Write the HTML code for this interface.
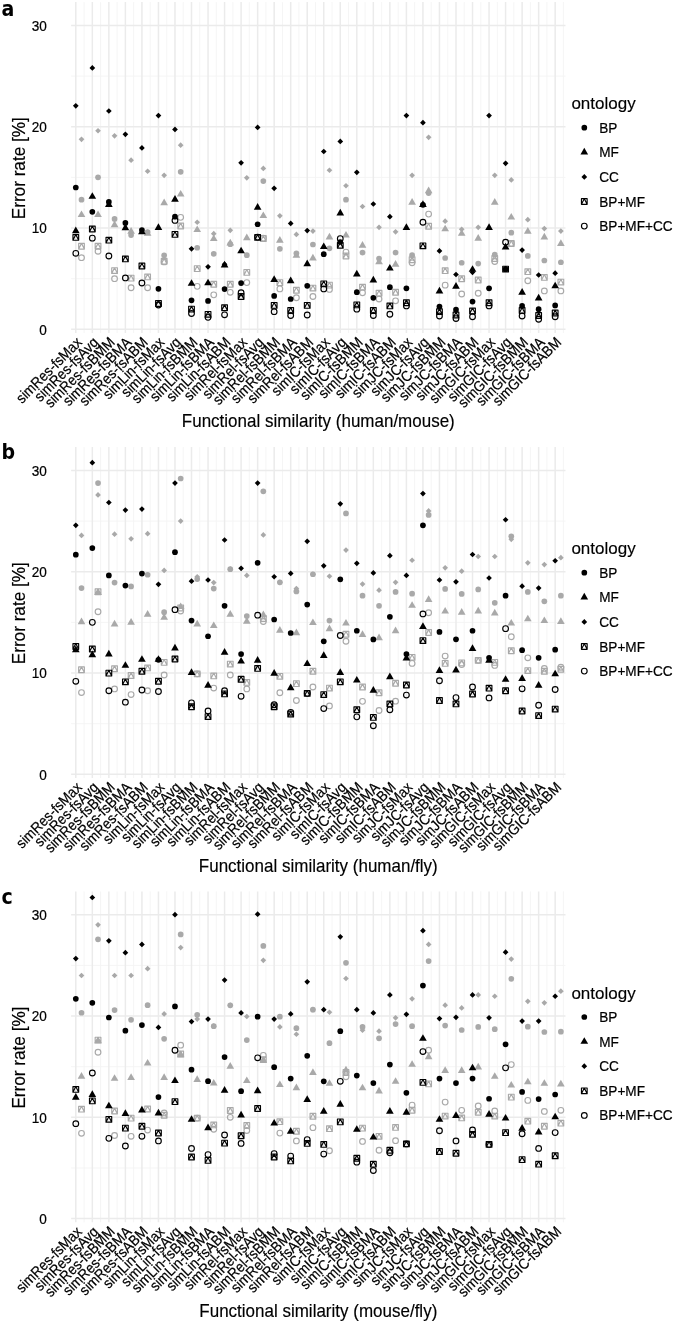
<!DOCTYPE html>
<html><head><meta charset="utf-8"><title>Error rate by functional similarity</title>
<style>
html,body{margin:0;padding:0;background:#fff;}
body{width:675px;height:1322px;overflow:hidden;}
svg{display:block;}
text{font-family:'Liberation Sans', sans-serif;fill:#000;}
.tk{font-size:13.6px;stroke:#000;stroke-width:0.2px;}
.tt{font-size:17px;stroke:#000;stroke-width:0.15px;}
.tag{font-family:'DejaVu Sans',sans-serif;font-size:20px;font-weight:bold;}
</style></head><body>
<svg width="675" height="1322" viewBox="0 0 675 1322">
<rect width="675" height="1322" fill="#fff"/>
<g>
<line x1="71.1" x2="565.5" y1="278.65" y2="278.65" stroke="#f4f4f4" stroke-width="0.9"/>
<line x1="71.1" x2="565.5" y1="177.35" y2="177.35" stroke="#f4f4f4" stroke-width="0.9"/>
<line x1="71.1" x2="565.5" y1="76.05" y2="76.05" stroke="#f4f4f4" stroke-width="0.9"/>
<line x1="84.06" x2="84.06" y1="2.1" y2="333" stroke="#f4f4f4" stroke-width="0.9"/>
<line x1="100.59" x2="100.59" y1="2.1" y2="333" stroke="#f4f4f4" stroke-width="0.9"/>
<line x1="117.12" x2="117.12" y1="2.1" y2="333" stroke="#f4f4f4" stroke-width="0.9"/>
<line x1="133.66" x2="133.66" y1="2.1" y2="333" stroke="#f4f4f4" stroke-width="0.9"/>
<line x1="150.19" x2="150.19" y1="2.1" y2="333" stroke="#f4f4f4" stroke-width="0.9"/>
<line x1="166.72" x2="166.72" y1="2.1" y2="333" stroke="#f4f4f4" stroke-width="0.9"/>
<line x1="183.25" x2="183.25" y1="2.1" y2="333" stroke="#f4f4f4" stroke-width="0.9"/>
<line x1="199.78" x2="199.78" y1="2.1" y2="333" stroke="#f4f4f4" stroke-width="0.9"/>
<line x1="216.31" x2="216.31" y1="2.1" y2="333" stroke="#f4f4f4" stroke-width="0.9"/>
<line x1="232.84" x2="232.84" y1="2.1" y2="333" stroke="#f4f4f4" stroke-width="0.9"/>
<line x1="249.37" x2="249.37" y1="2.1" y2="333" stroke="#f4f4f4" stroke-width="0.9"/>
<line x1="265.9" x2="265.9" y1="2.1" y2="333" stroke="#f4f4f4" stroke-width="0.9"/>
<line x1="282.43" x2="282.43" y1="2.1" y2="333" stroke="#f4f4f4" stroke-width="0.9"/>
<line x1="298.96" x2="298.96" y1="2.1" y2="333" stroke="#f4f4f4" stroke-width="0.9"/>
<line x1="315.49" x2="315.49" y1="2.1" y2="333" stroke="#f4f4f4" stroke-width="0.9"/>
<line x1="332.02" x2="332.02" y1="2.1" y2="333" stroke="#f4f4f4" stroke-width="0.9"/>
<line x1="348.55" x2="348.55" y1="2.1" y2="333" stroke="#f4f4f4" stroke-width="0.9"/>
<line x1="365.08" x2="365.08" y1="2.1" y2="333" stroke="#f4f4f4" stroke-width="0.9"/>
<line x1="381.61" x2="381.61" y1="2.1" y2="333" stroke="#f4f4f4" stroke-width="0.9"/>
<line x1="398.14" x2="398.14" y1="2.1" y2="333" stroke="#f4f4f4" stroke-width="0.9"/>
<line x1="414.67" x2="414.67" y1="2.1" y2="333" stroke="#f4f4f4" stroke-width="0.9"/>
<line x1="431.2" x2="431.2" y1="2.1" y2="333" stroke="#f4f4f4" stroke-width="0.9"/>
<line x1="447.73" x2="447.73" y1="2.1" y2="333" stroke="#f4f4f4" stroke-width="0.9"/>
<line x1="464.26" x2="464.26" y1="2.1" y2="333" stroke="#f4f4f4" stroke-width="0.9"/>
<line x1="480.79" x2="480.79" y1="2.1" y2="333" stroke="#f4f4f4" stroke-width="0.9"/>
<line x1="497.32" x2="497.32" y1="2.1" y2="333" stroke="#f4f4f4" stroke-width="0.9"/>
<line x1="513.85" x2="513.85" y1="2.1" y2="333" stroke="#f4f4f4" stroke-width="0.9"/>
<line x1="530.38" x2="530.38" y1="2.1" y2="333" stroke="#f4f4f4" stroke-width="0.9"/>
<line x1="546.9" x2="546.9" y1="2.1" y2="333" stroke="#f4f4f4" stroke-width="0.9"/>
<line x1="563.44" x2="563.44" y1="2.1" y2="333" stroke="#f4f4f4" stroke-width="0.9"/>
<line x1="71.1" x2="565.5" y1="329.3" y2="329.3" stroke="#ebebeb" stroke-width="1.5"/>
<line x1="71.1" x2="565.5" y1="228" y2="228" stroke="#ebebeb" stroke-width="1.5"/>
<line x1="71.1" x2="565.5" y1="126.7" y2="126.7" stroke="#ebebeb" stroke-width="1.5"/>
<line x1="71.1" x2="565.5" y1="25.4" y2="25.4" stroke="#ebebeb" stroke-width="1.5"/>
<line x1="75.8" x2="75.8" y1="2.1" y2="333" stroke="#ebebeb" stroke-width="1.5"/>
<line x1="92.33" x2="92.33" y1="2.1" y2="333" stroke="#ebebeb" stroke-width="1.5"/>
<line x1="108.86" x2="108.86" y1="2.1" y2="333" stroke="#ebebeb" stroke-width="1.5"/>
<line x1="125.39" x2="125.39" y1="2.1" y2="333" stroke="#ebebeb" stroke-width="1.5"/>
<line x1="141.92" x2="141.92" y1="2.1" y2="333" stroke="#ebebeb" stroke-width="1.5"/>
<line x1="158.45" x2="158.45" y1="2.1" y2="333" stroke="#ebebeb" stroke-width="1.5"/>
<line x1="174.98" x2="174.98" y1="2.1" y2="333" stroke="#ebebeb" stroke-width="1.5"/>
<line x1="191.51" x2="191.51" y1="2.1" y2="333" stroke="#ebebeb" stroke-width="1.5"/>
<line x1="208.04" x2="208.04" y1="2.1" y2="333" stroke="#ebebeb" stroke-width="1.5"/>
<line x1="224.57" x2="224.57" y1="2.1" y2="333" stroke="#ebebeb" stroke-width="1.5"/>
<line x1="241.1" x2="241.1" y1="2.1" y2="333" stroke="#ebebeb" stroke-width="1.5"/>
<line x1="257.63" x2="257.63" y1="2.1" y2="333" stroke="#ebebeb" stroke-width="1.5"/>
<line x1="274.16" x2="274.16" y1="2.1" y2="333" stroke="#ebebeb" stroke-width="1.5"/>
<line x1="290.69" x2="290.69" y1="2.1" y2="333" stroke="#ebebeb" stroke-width="1.5"/>
<line x1="307.22" x2="307.22" y1="2.1" y2="333" stroke="#ebebeb" stroke-width="1.5"/>
<line x1="323.75" x2="323.75" y1="2.1" y2="333" stroke="#ebebeb" stroke-width="1.5"/>
<line x1="340.28" x2="340.28" y1="2.1" y2="333" stroke="#ebebeb" stroke-width="1.5"/>
<line x1="356.81" x2="356.81" y1="2.1" y2="333" stroke="#ebebeb" stroke-width="1.5"/>
<line x1="373.34" x2="373.34" y1="2.1" y2="333" stroke="#ebebeb" stroke-width="1.5"/>
<line x1="389.87" x2="389.87" y1="2.1" y2="333" stroke="#ebebeb" stroke-width="1.5"/>
<line x1="406.4" x2="406.4" y1="2.1" y2="333" stroke="#ebebeb" stroke-width="1.5"/>
<line x1="422.93" x2="422.93" y1="2.1" y2="333" stroke="#ebebeb" stroke-width="1.5"/>
<line x1="439.46" x2="439.46" y1="2.1" y2="333" stroke="#ebebeb" stroke-width="1.5"/>
<line x1="455.99" x2="455.99" y1="2.1" y2="333" stroke="#ebebeb" stroke-width="1.5"/>
<line x1="472.52" x2="472.52" y1="2.1" y2="333" stroke="#ebebeb" stroke-width="1.5"/>
<line x1="489.05" x2="489.05" y1="2.1" y2="333" stroke="#ebebeb" stroke-width="1.5"/>
<line x1="505.58" x2="505.58" y1="2.1" y2="333" stroke="#ebebeb" stroke-width="1.5"/>
<line x1="522.11" x2="522.11" y1="2.1" y2="333" stroke="#ebebeb" stroke-width="1.5"/>
<line x1="538.64" x2="538.64" y1="2.1" y2="333" stroke="#ebebeb" stroke-width="1.5"/>
<line x1="555.17" x2="555.17" y1="2.1" y2="333" stroke="#ebebeb" stroke-width="1.5"/>
<circle cx="81.5" cy="199.64" r="2.85" fill="#a9a9a9"/>
<polygon points="81.5,210.39 85.34,217.03 77.66,217.03" fill="#a9a9a9"/>
<polygon points="78.65,139.36 81.5,136.51 84.35,139.36 81.5,142.21" fill="#a9a9a9"/>
<path d="M78.65,243.38h5.7v5.7h-5.7zM81.5,243.38L84.35,249.08M81.5,243.38L78.65,249.08" fill="none" stroke="#a9a9a9" stroke-width="1.15" stroke-linejoin="round"/>
<circle cx="81.5" cy="257.68" r="2.85" fill="none" stroke="#a9a9a9" stroke-width="1.15"/>
<circle cx="75.8" cy="187.48" r="2.85" fill="#000"/>
<polygon points="75.8,226.59 79.64,233.24 71.96,233.24" fill="#000"/>
<polygon points="72.95,105.83 75.8,102.98 78.65,105.83 75.8,108.68" fill="#000"/>
<path d="M72.95,234.57h5.7v5.7h-5.7zM75.8,234.57L78.65,240.27M75.8,234.57L72.95,240.27" fill="none" stroke="#000" stroke-width="1.15" stroke-linejoin="round"/>
<circle cx="75.8" cy="253.32" r="2.85" fill="none" stroke="#000" stroke-width="1.15"/>
<circle cx="98.03" cy="177.35" r="2.85" fill="#a9a9a9"/>
<polygon points="98.03,210.39 101.87,217.03 94.19,217.03" fill="#a9a9a9"/>
<polygon points="95.18,130.75 98.03,127.9 100.88,130.75 98.03,133.6" fill="#a9a9a9"/>
<path d="M95.18,243.38h5.7v5.7h-5.7zM98.03,243.38L100.88,249.08M98.03,243.38L95.18,249.08" fill="none" stroke="#a9a9a9" stroke-width="1.15" stroke-linejoin="round"/>
<circle cx="98.03" cy="251.3" r="2.85" fill="none" stroke="#a9a9a9" stroke-width="1.15"/>
<circle cx="92.33" cy="211.79" r="2.85" fill="#000"/>
<polygon points="92.33,192.15 96.17,198.8 88.49,198.8" fill="#000"/>
<polygon points="89.48,67.95 92.33,65.1 95.18,67.95 92.33,70.8" fill="#000"/>
<path d="M89.48,226.16h5.7v5.7h-5.7zM92.33,226.16L95.18,231.86M92.33,226.16L89.48,231.86" fill="none" stroke="#000" stroke-width="1.15" stroke-linejoin="round"/>
<circle cx="92.33" cy="238.13" r="2.85" fill="none" stroke="#000" stroke-width="1.15"/>
<circle cx="114.56" cy="218.88" r="2.85" fill="#a9a9a9"/>
<polygon points="114.56,220.52 118.4,227.16 110.72,227.16" fill="#a9a9a9"/>
<polygon points="111.71,135.82 114.56,132.97 117.41,135.82 114.56,138.67" fill="#a9a9a9"/>
<path d="M111.71,267.7h5.7v5.7h-5.7zM114.56,267.7L117.41,273.4M114.56,267.7L111.71,273.4" fill="none" stroke="#a9a9a9" stroke-width="1.15" stroke-linejoin="round"/>
<circle cx="114.56" cy="278.65" r="2.85" fill="none" stroke="#a9a9a9" stroke-width="1.15"/>
<circle cx="108.86" cy="201.97" r="2.85" fill="#000"/>
<polygon points="108.86,200.26 112.7,206.9 105.02,206.9" fill="#000"/>
<polygon points="106.01,111 108.86,108.15 111.71,111 108.86,113.85" fill="#000"/>
<path d="M106.01,237.31h5.7v5.7h-5.7zM108.86,237.31L111.71,243.01M108.86,237.31L106.01,243.01" fill="none" stroke="#000" stroke-width="1.15" stroke-linejoin="round"/>
<circle cx="108.86" cy="255.96" r="2.85" fill="none" stroke="#000" stroke-width="1.15"/>
<circle cx="131.09" cy="235.09" r="2.85" fill="#a9a9a9"/>
<polygon points="131.09,227.1 134.93,233.75 127.25,233.75" fill="#a9a9a9"/>
<polygon points="128.24,160.13 131.09,157.28 133.94,160.13 131.09,162.98" fill="#a9a9a9"/>
<path d="M128.24,275.29h5.7v5.7h-5.7zM131.09,275.29L133.94,280.99M131.09,275.29L128.24,280.99" fill="none" stroke="#a9a9a9" stroke-width="1.15" stroke-linejoin="round"/>
<circle cx="131.09" cy="287.77" r="2.85" fill="none" stroke="#a9a9a9" stroke-width="1.15"/>
<circle cx="125.39" cy="222.94" r="2.85" fill="#000"/>
<polygon points="125.39,223.55 129.23,230.2 121.55,230.2" fill="#000"/>
<polygon points="122.54,134.3 125.39,131.45 128.24,134.3 125.39,137.15" fill="#000"/>
<path d="M122.54,256.05h5.7v5.7h-5.7zM125.39,256.05L128.24,261.75M125.39,256.05L122.54,261.75" fill="none" stroke="#000" stroke-width="1.15" stroke-linejoin="round"/>
<circle cx="125.39" cy="277.94" r="2.85" fill="none" stroke="#000" stroke-width="1.15"/>
<circle cx="147.62" cy="232.05" r="2.85" fill="#a9a9a9"/>
<polygon points="147.62,229.13 151.46,235.77 143.78,235.77" fill="#a9a9a9"/>
<polygon points="144.77,171.27 147.62,168.42 150.47,171.27 147.62,174.12" fill="#a9a9a9"/>
<path d="M144.77,274.08h5.7v5.7h-5.7zM147.62,274.08L150.47,279.78M147.62,274.08L144.77,279.78" fill="none" stroke="#a9a9a9" stroke-width="1.15" stroke-linejoin="round"/>
<circle cx="147.62" cy="287.77" r="2.85" fill="none" stroke="#a9a9a9" stroke-width="1.15"/>
<circle cx="141.92" cy="230.03" r="2.85" fill="#000"/>
<polygon points="141.92,227.61 145.76,234.26 138.08,234.26" fill="#000"/>
<polygon points="139.07,147.97 141.92,145.12 144.77,147.97 141.92,150.82" fill="#000"/>
<path d="M139.07,263.14h5.7v5.7h-5.7zM141.92,263.14L144.77,268.84M141.92,263.14L139.07,268.84" fill="none" stroke="#000" stroke-width="1.15" stroke-linejoin="round"/>
<circle cx="141.92" cy="283.01" r="2.85" fill="none" stroke="#000" stroke-width="1.15"/>
<circle cx="164.15" cy="255.35" r="2.85" fill="#a9a9a9"/>
<polygon points="164.15,198.53 167.99,205.18 160.31,205.18" fill="#a9a9a9"/>
<polygon points="161.3,175.32 164.15,172.47 167,175.32 164.15,178.17" fill="#a9a9a9"/>
<path d="M161.3,258.38h5.7v5.7h-5.7zM164.15,258.38L167,264.08M164.15,258.38L161.3,264.08" fill="none" stroke="#a9a9a9" stroke-width="1.15" stroke-linejoin="round"/>
<circle cx="164.15" cy="261.94" r="2.85" fill="none" stroke="#a9a9a9" stroke-width="1.15"/>
<circle cx="158.45" cy="288.78" r="2.85" fill="#000"/>
<polygon points="158.45,223.35 162.29,230 154.61,230" fill="#000"/>
<polygon points="155.6,115.56 158.45,112.71 161.3,115.56 158.45,118.41" fill="#000"/>
<path d="M155.6,300.62h5.7v5.7h-5.7zM158.45,300.62L161.3,306.32M158.45,300.62L155.6,306.32" fill="none" stroke="#000" stroke-width="1.15" stroke-linejoin="round"/>
<circle cx="158.45" cy="304.99" r="2.85" fill="none" stroke="#000" stroke-width="1.15"/>
<circle cx="180.68" cy="171.78" r="2.85" fill="#a9a9a9"/>
<polygon points="180.68,189.92 184.52,196.57 176.84,196.57" fill="#a9a9a9"/>
<polygon points="177.83,145.14 180.68,142.29 183.53,145.14 180.68,147.99" fill="#a9a9a9"/>
<path d="M177.83,223.12h5.7v5.7h-5.7zM180.68,223.12L183.53,228.82M180.68,223.12L177.83,228.82" fill="none" stroke="#a9a9a9" stroke-width="1.15" stroke-linejoin="round"/>
<circle cx="180.68" cy="217.36" r="2.85" fill="none" stroke="#a9a9a9" stroke-width="1.15"/>
<circle cx="174.98" cy="216.65" r="2.85" fill="#000"/>
<polygon points="174.98,194.99 178.82,201.64 171.14,201.64" fill="#000"/>
<polygon points="172.13,129.44 174.98,126.59 177.83,129.44 174.98,132.29" fill="#000"/>
<path d="M172.13,231.53h5.7v5.7h-5.7zM174.98,231.53L177.83,237.23M174.98,231.53L172.13,237.23" fill="none" stroke="#000" stroke-width="1.15" stroke-linejoin="round"/>
<circle cx="174.98" cy="220.4" r="2.85" fill="none" stroke="#000" stroke-width="1.15"/>
<circle cx="197.21" cy="247.75" r="2.85" fill="#a9a9a9"/>
<polygon points="197.21,225.38 201.05,232.03 193.37,232.03" fill="#a9a9a9"/>
<polygon points="194.36,222.23 197.21,219.38 200.06,222.23 197.21,225.08" fill="#a9a9a9"/>
<path d="M194.36,265.77h5.7v5.7h-5.7zM197.21,265.77L200.06,271.47M197.21,265.77L194.36,271.47" fill="none" stroke="#a9a9a9" stroke-width="1.15" stroke-linejoin="round"/>
<circle cx="197.21" cy="286.35" r="2.85" fill="none" stroke="#a9a9a9" stroke-width="1.15"/>
<circle cx="191.51" cy="300.33" r="2.85" fill="#000"/>
<polygon points="191.51,279.17 195.35,285.82 187.67,285.82" fill="#000"/>
<polygon points="188.66,248.87 191.51,246.02 194.36,248.87 191.51,251.72" fill="#000"/>
<path d="M188.66,306.29h5.7v5.7h-5.7zM191.51,306.29L194.36,311.99M191.51,306.29L188.66,311.99" fill="none" stroke="#000" stroke-width="1.15" stroke-linejoin="round"/>
<circle cx="191.51" cy="313.5" r="2.85" fill="none" stroke="#000" stroke-width="1.15"/>
<circle cx="213.74" cy="253.83" r="2.85" fill="#a9a9a9"/>
<polygon points="213.74,234.39 217.58,241.04 209.9,241.04" fill="#a9a9a9"/>
<polygon points="210.89,233.67 213.74,230.82 216.59,233.67 213.74,236.52" fill="#a9a9a9"/>
<path d="M210.89,281.37h5.7v5.7h-5.7zM213.74,281.37L216.59,287.07M213.74,281.37L210.89,287.07" fill="none" stroke="#a9a9a9" stroke-width="1.15" stroke-linejoin="round"/>
<circle cx="213.74" cy="294.86" r="2.85" fill="none" stroke="#a9a9a9" stroke-width="1.15"/>
<circle cx="208.04" cy="300.94" r="2.85" fill="#000"/>
<polygon points="208.04,278.66 211.88,285.31 204.2,285.31" fill="#000"/>
<polygon points="205.19,266.8 208.04,263.95 210.89,266.8 208.04,269.65" fill="#000"/>
<path d="M205.19,311.46h5.7v5.7h-5.7zM208.04,311.46L210.89,317.16M208.04,311.46L205.19,317.16" fill="none" stroke="#000" stroke-width="1.15" stroke-linejoin="round"/>
<circle cx="208.04" cy="317.35" r="2.85" fill="none" stroke="#000" stroke-width="1.15"/>
<circle cx="230.27" cy="244.21" r="2.85" fill="#a9a9a9"/>
<polygon points="230.27,238.75 234.11,245.4 226.43,245.4" fill="#a9a9a9"/>
<polygon points="227.42,230.33 230.27,227.48 233.12,230.33 230.27,233.18" fill="#a9a9a9"/>
<path d="M227.42,281.37h5.7v5.7h-5.7zM230.27,281.37L233.12,287.07M230.27,281.37L227.42,287.07" fill="none" stroke="#a9a9a9" stroke-width="1.15" stroke-linejoin="round"/>
<circle cx="230.27" cy="292.33" r="2.85" fill="none" stroke="#a9a9a9" stroke-width="1.15"/>
<circle cx="224.57" cy="289.08" r="2.85" fill="#000"/>
<polygon points="224.57,260.83 228.41,267.48 220.73,267.48" fill="#000"/>
<polygon points="221.72,264.27 224.57,261.42 227.42,264.27 224.57,267.12" fill="#000"/>
<path d="M221.72,304.87h5.7v5.7h-5.7zM224.57,304.87L227.42,310.57M224.57,304.87L221.72,310.57" fill="none" stroke="#000" stroke-width="1.15" stroke-linejoin="round"/>
<circle cx="224.57" cy="314.81" r="2.85" fill="none" stroke="#000" stroke-width="1.15"/>
<circle cx="246.8" cy="255.15" r="2.85" fill="#a9a9a9"/>
<polygon points="246.8,233.48 250.64,240.13 242.96,240.13" fill="#a9a9a9"/>
<polygon points="243.95,177.86 246.8,175.01 249.65,177.86 246.8,180.71" fill="#a9a9a9"/>
<path d="M243.95,269.52h5.7v5.7h-5.7zM246.8,269.52L249.65,275.22M246.8,269.52L243.95,275.22" fill="none" stroke="#a9a9a9" stroke-width="1.15" stroke-linejoin="round"/>
<circle cx="246.8" cy="282.6" r="2.85" fill="none" stroke="#a9a9a9" stroke-width="1.15"/>
<circle cx="241.1" cy="283.11" r="2.85" fill="#000"/>
<polygon points="241.1,246.65 244.94,253.3 237.26,253.3" fill="#000"/>
<polygon points="238.25,162.86 241.1,160.01 243.95,162.86 241.1,165.71" fill="#000"/>
<path d="M238.25,293.63h5.7v5.7h-5.7zM241.1,293.63L243.95,299.33M241.1,293.63L238.25,299.33" fill="none" stroke="#000" stroke-width="1.15" stroke-linejoin="round"/>
<circle cx="241.1" cy="292.73" r="2.85" fill="none" stroke="#000" stroke-width="1.15"/>
<circle cx="263.33" cy="181.1" r="2.85" fill="#a9a9a9"/>
<polygon points="263.33,211.4 267.17,218.05 259.49,218.05" fill="#a9a9a9"/>
<polygon points="260.48,168.44 263.33,165.59 266.18,168.44 263.33,171.29" fill="#a9a9a9"/>
<path d="M260.48,235.69h5.7v5.7h-5.7zM263.33,235.69L266.18,241.39M263.33,235.69L260.48,241.39" fill="none" stroke="#a9a9a9" stroke-width="1.15" stroke-linejoin="round"/>
<circle cx="263.33" cy="238.13" r="2.85" fill="none" stroke="#a9a9a9" stroke-width="1.15"/>
<circle cx="257.63" cy="224.25" r="2.85" fill="#000"/>
<polygon points="257.63,203.09 261.47,209.74 253.79,209.74" fill="#000"/>
<polygon points="254.78,127.41 257.63,124.56 260.48,127.41 257.63,130.26" fill="#000"/>
<path d="M254.78,234.57h5.7v5.7h-5.7zM257.63,234.57L260.48,240.27M257.63,234.57L254.78,240.27" fill="none" stroke="#000" stroke-width="1.15" stroke-linejoin="round"/>
<circle cx="257.63" cy="237.12" r="2.85" fill="none" stroke="#000" stroke-width="1.15"/>
<circle cx="279.86" cy="248.87" r="2.85" fill="#a9a9a9"/>
<polygon points="279.86,236.01 283.7,242.66 276.02,242.66" fill="#a9a9a9"/>
<polygon points="277.01,215.84 279.86,212.99 282.71,215.84 279.86,218.69" fill="#a9a9a9"/>
<path d="M277.01,279.75h5.7v5.7h-5.7zM279.86,279.75L282.71,285.45M279.86,279.75L277.01,285.45" fill="none" stroke="#a9a9a9" stroke-width="1.15" stroke-linejoin="round"/>
<circle cx="279.86" cy="288.88" r="2.85" fill="none" stroke="#a9a9a9" stroke-width="1.15"/>
<circle cx="274.16" cy="295.97" r="2.85" fill="#000"/>
<polygon points="274.16,275.32 278,281.97 270.32,281.97" fill="#000"/>
<polygon points="271.31,188.29 274.16,185.44 277.01,188.29 274.16,191.14" fill="#000"/>
<path d="M271.31,302.54h5.7v5.7h-5.7zM274.16,302.54L277.01,308.24M274.16,302.54L271.31,308.24" fill="none" stroke="#000" stroke-width="1.15" stroke-linejoin="round"/>
<circle cx="274.16" cy="311.67" r="2.85" fill="none" stroke="#000" stroke-width="1.15"/>
<circle cx="296.39" cy="253.43" r="2.85" fill="#a9a9a9"/>
<polygon points="296.39,251.21 300.23,257.86 292.55,257.86" fill="#a9a9a9"/>
<polygon points="293.54,234.38 296.39,231.53 299.24,234.38 296.39,237.23" fill="#a9a9a9"/>
<path d="M293.54,287.35h5.7v5.7h-5.7zM296.39,287.35L299.24,293.05M296.39,287.35L293.54,293.05" fill="none" stroke="#a9a9a9" stroke-width="1.15" stroke-linejoin="round"/>
<circle cx="296.39" cy="297.8" r="2.85" fill="none" stroke="#a9a9a9" stroke-width="1.15"/>
<circle cx="290.69" cy="299.01" r="2.85" fill="#000"/>
<polygon points="290.69,276.53 294.53,283.18 286.85,283.18" fill="#000"/>
<polygon points="287.84,223.44 290.69,220.59 293.54,223.44 290.69,226.29" fill="#000"/>
<path d="M287.84,307.61h5.7v5.7h-5.7zM290.69,307.61L293.54,313.31M290.69,307.61L287.84,313.31" fill="none" stroke="#000" stroke-width="1.15" stroke-linejoin="round"/>
<circle cx="290.69" cy="315.52" r="2.85" fill="none" stroke="#000" stroke-width="1.15"/>
<circle cx="312.92" cy="244.51" r="2.85" fill="#a9a9a9"/>
<polygon points="312.92,253.74 316.76,260.39 309.08,260.39" fill="#a9a9a9"/>
<polygon points="310.07,231.04 312.92,228.19 315.77,231.04 312.92,233.89" fill="#a9a9a9"/>
<path d="M310.07,285.22h5.7v5.7h-5.7zM312.92,285.22L315.77,290.92M312.92,285.22L310.07,290.92" fill="none" stroke="#a9a9a9" stroke-width="1.15" stroke-linejoin="round"/>
<circle cx="312.92" cy="296.48" r="2.85" fill="none" stroke="#a9a9a9" stroke-width="1.15"/>
<circle cx="307.22" cy="285.84" r="2.85" fill="#000"/>
<polygon points="307.22,259.62 311.06,266.27 303.38,266.27" fill="#000"/>
<polygon points="304.37,230.53 307.22,227.68 310.07,230.53 307.22,233.38" fill="#000"/>
<path d="M304.37,302.54h5.7v5.7h-5.7zM307.22,302.54L310.07,308.24M307.22,302.54L304.37,308.24" fill="none" stroke="#000" stroke-width="1.15" stroke-linejoin="round"/>
<circle cx="307.22" cy="315.02" r="2.85" fill="none" stroke="#000" stroke-width="1.15"/>
<circle cx="329.45" cy="248.36" r="2.85" fill="#a9a9a9"/>
<polygon points="329.45,232.77 333.29,239.42 325.61,239.42" fill="#a9a9a9"/>
<polygon points="326.6,170.26 329.45,167.41 332.3,170.26 329.45,173.11" fill="#a9a9a9"/>
<path d="M326.6,282.28h5.7v5.7h-5.7zM329.45,282.28L332.3,287.98M329.45,282.28L326.6,287.98" fill="none" stroke="#a9a9a9" stroke-width="1.15" stroke-linejoin="round"/>
<circle cx="329.45" cy="289.39" r="2.85" fill="none" stroke="#a9a9a9" stroke-width="1.15"/>
<circle cx="323.75" cy="254.14" r="2.85" fill="#000"/>
<polygon points="323.75,242.4 327.59,249.04 319.91,249.04" fill="#000"/>
<polygon points="320.9,151.52 323.75,148.67 326.6,151.52 323.75,154.37" fill="#000"/>
<path d="M320.9,280.97h5.7v5.7h-5.7zM323.75,280.97L326.6,286.67M323.75,280.97L320.9,286.67" fill="none" stroke="#000" stroke-width="1.15" stroke-linejoin="round"/>
<circle cx="323.75" cy="288.88" r="2.85" fill="none" stroke="#000" stroke-width="1.15"/>
<circle cx="345.98" cy="199.64" r="2.85" fill="#a9a9a9"/>
<polygon points="345.98,230.95 349.82,237.6 342.14,237.6" fill="#a9a9a9"/>
<polygon points="343.13,185.76 345.98,182.91 348.83,185.76 345.98,188.61" fill="#a9a9a9"/>
<path d="M343.13,253.11h5.7v5.7h-5.7zM345.98,253.11L348.83,258.81M345.98,253.11L343.13,258.81" fill="none" stroke="#a9a9a9" stroke-width="1.15" stroke-linejoin="round"/>
<circle cx="345.98" cy="252.11" r="2.85" fill="none" stroke="#a9a9a9" stroke-width="1.15"/>
<circle cx="340.28" cy="241.98" r="2.85" fill="#000"/>
<polygon points="340.28,208.87 344.12,215.51 336.44,215.51" fill="#000"/>
<polygon points="337.43,141.39 340.28,138.54 343.13,141.39 340.28,144.24" fill="#000"/>
<path d="M337.43,242.47h5.7v5.7h-5.7zM340.28,242.47L343.13,248.17M340.28,242.47L337.43,248.17" fill="none" stroke="#000" stroke-width="1.15" stroke-linejoin="round"/>
<circle cx="340.28" cy="238.64" r="2.85" fill="none" stroke="#000" stroke-width="1.15"/>
<circle cx="362.51" cy="252.62" r="2.85" fill="#a9a9a9"/>
<polygon points="362.51,241.08 366.35,247.73 358.67,247.73" fill="#a9a9a9"/>
<polygon points="359.66,206.52 362.51,203.67 365.36,206.52 362.51,209.37" fill="#a9a9a9"/>
<path d="M359.66,284.31h5.7v5.7h-5.7zM362.51,284.31L365.36,290.01M362.51,284.31L359.66,290.01" fill="none" stroke="#a9a9a9" stroke-width="1.15" stroke-linejoin="round"/>
<circle cx="362.51" cy="292.73" r="2.85" fill="none" stroke="#a9a9a9" stroke-width="1.15"/>
<circle cx="356.81" cy="292.22" r="2.85" fill="#000"/>
<polygon points="356.81,269.75 360.65,276.4 352.97,276.4" fill="#000"/>
<polygon points="353.96,172.28 356.81,169.44 359.66,172.28 356.81,175.13" fill="#000"/>
<path d="M353.96,302.04h5.7v5.7h-5.7zM356.81,302.04L359.66,307.74M356.81,302.04L353.96,307.74" fill="none" stroke="#000" stroke-width="1.15" stroke-linejoin="round"/>
<circle cx="356.81" cy="309.14" r="2.85" fill="none" stroke="#000" stroke-width="1.15"/>
<circle cx="379.04" cy="258.49" r="2.85" fill="#a9a9a9"/>
<polygon points="379.04,257.59 382.88,264.24 375.2,264.24" fill="#a9a9a9"/>
<polygon points="376.19,227.29 379.04,224.44 381.89,227.29 379.04,230.14" fill="#a9a9a9"/>
<path d="M376.19,290.39h5.7v5.7h-5.7zM379.04,290.39L381.89,296.09M379.04,290.39L376.19,296.09" fill="none" stroke="#a9a9a9" stroke-width="1.15" stroke-linejoin="round"/>
<circle cx="379.04" cy="299.01" r="2.85" fill="none" stroke="#a9a9a9" stroke-width="1.15"/>
<circle cx="373.34" cy="297.8" r="2.85" fill="#000"/>
<polygon points="373.34,275.83 377.18,282.47 369.5,282.47" fill="#000"/>
<polygon points="370.49,203.99 373.34,201.14 376.19,203.99 373.34,206.84" fill="#000"/>
<path d="M370.49,307.61h5.7v5.7h-5.7zM373.34,307.61L376.19,313.31M373.34,307.61L370.49,313.31" fill="none" stroke="#000" stroke-width="1.15" stroke-linejoin="round"/>
<circle cx="373.34" cy="315.52" r="2.85" fill="none" stroke="#000" stroke-width="1.15"/>
<circle cx="395.57" cy="252.62" r="2.85" fill="#a9a9a9"/>
<polygon points="395.57,260.12 399.41,266.77 391.73,266.77" fill="#a9a9a9"/>
<polygon points="392.72,231.85 395.57,229 398.42,231.85 395.57,234.7" fill="#a9a9a9"/>
<path d="M392.72,289.37h5.7v5.7h-5.7zM395.57,289.37L398.42,295.07M395.57,289.37L392.72,295.07" fill="none" stroke="#a9a9a9" stroke-width="1.15" stroke-linejoin="round"/>
<circle cx="395.57" cy="300.83" r="2.85" fill="none" stroke="#a9a9a9" stroke-width="1.15"/>
<circle cx="389.87" cy="287.16" r="2.85" fill="#000"/>
<polygon points="389.87,263.97 393.71,270.62 386.03,270.62" fill="#000"/>
<polygon points="387.02,216.65 389.87,213.8 392.72,216.65 389.87,219.5" fill="#000"/>
<path d="M387.02,303.05h5.7v5.7h-5.7zM389.87,303.05L392.72,308.75M389.87,303.05L387.02,308.75" fill="none" stroke="#000" stroke-width="1.15" stroke-linejoin="round"/>
<circle cx="389.87" cy="314.21" r="2.85" fill="none" stroke="#000" stroke-width="1.15"/>
<circle cx="412.1" cy="255.15" r="2.85" fill="#a9a9a9"/>
<polygon points="412.1,198.03 415.94,204.68 408.26,204.68" fill="#a9a9a9"/>
<polygon points="409.25,175.32 412.1,172.47 414.95,175.32 412.1,178.17" fill="#a9a9a9"/>
<path d="M409.25,256.86h5.7v5.7h-5.7zM412.1,256.86L414.95,262.56M412.1,256.86L409.25,262.56" fill="none" stroke="#a9a9a9" stroke-width="1.15" stroke-linejoin="round"/>
<circle cx="412.1" cy="262.75" r="2.85" fill="none" stroke="#a9a9a9" stroke-width="1.15"/>
<circle cx="406.4" cy="288.37" r="2.85" fill="#000"/>
<polygon points="406.4,223.35 410.24,230 402.56,230" fill="#000"/>
<polygon points="403.55,115.56 406.4,112.71 409.25,115.56 406.4,118.41" fill="#000"/>
<path d="M403.55,299.91h5.7v5.7h-5.7zM406.4,299.91L409.25,305.61M406.4,299.91L403.55,305.61" fill="none" stroke="#000" stroke-width="1.15" stroke-linejoin="round"/>
<circle cx="406.4" cy="305.9" r="2.85" fill="none" stroke="#000" stroke-width="1.15"/>
<circle cx="428.63" cy="193.05" r="2.85" fill="#a9a9a9"/>
<polygon points="428.63,186.58 432.47,193.23 424.79,193.23" fill="#a9a9a9"/>
<polygon points="425.78,137.34 428.63,134.49 431.48,137.34 428.63,140.19" fill="#a9a9a9"/>
<path d="M425.78,223.43h5.7v5.7h-5.7zM428.63,223.43L431.48,229.13M428.63,223.43L425.78,229.13" fill="none" stroke="#a9a9a9" stroke-width="1.15" stroke-linejoin="round"/>
<circle cx="428.63" cy="214.12" r="2.85" fill="none" stroke="#a9a9a9" stroke-width="1.15"/>
<circle cx="422.93" cy="204.8" r="2.85" fill="#000"/>
<polygon points="422.93,200.26 426.77,206.9 419.09,206.9" fill="#000"/>
<polygon points="420.08,122.65 422.93,119.8 425.78,122.65 422.93,125.5" fill="#000"/>
<path d="M420.08,242.98h5.7v5.7h-5.7zM422.93,242.98L425.78,248.68M422.93,242.98L420.08,248.68" fill="none" stroke="#000" stroke-width="1.15" stroke-linejoin="round"/>
<circle cx="422.93" cy="222.23" r="2.85" fill="none" stroke="#000" stroke-width="1.15"/>
<circle cx="445.16" cy="257.98" r="2.85" fill="#a9a9a9"/>
<polygon points="445.16,224.67 449,231.32 441.32,231.32" fill="#a9a9a9"/>
<polygon points="442.31,221.21 445.16,218.36 448.01,221.21 445.16,224.06" fill="#a9a9a9"/>
<path d="M442.31,267.8h5.7v5.7h-5.7zM445.16,267.8L448.01,273.5M445.16,267.8L442.31,273.5" fill="none" stroke="#a9a9a9" stroke-width="1.15" stroke-linejoin="round"/>
<circle cx="445.16" cy="285.13" r="2.85" fill="none" stroke="#a9a9a9" stroke-width="1.15"/>
<circle cx="439.46" cy="306.61" r="2.85" fill="#000"/>
<polygon points="439.46,286.77 443.3,293.41 435.62,293.41" fill="#000"/>
<polygon points="436.61,250.89 439.46,248.04 442.31,250.89 439.46,253.74" fill="#000"/>
<path d="M436.61,308.82h5.7v5.7h-5.7zM439.46,308.82L442.31,314.52M439.46,308.82L436.61,314.52" fill="none" stroke="#000" stroke-width="1.15" stroke-linejoin="round"/>
<circle cx="439.46" cy="316.03" r="2.85" fill="none" stroke="#000" stroke-width="1.15"/>
<circle cx="461.69" cy="262.75" r="2.85" fill="#a9a9a9"/>
<polygon points="461.69,229.13 465.53,235.77 457.85,235.77" fill="#a9a9a9"/>
<polygon points="458.84,229.32 461.69,226.47 464.54,229.32 461.69,232.17" fill="#a9a9a9"/>
<path d="M458.84,275.9h5.7v5.7h-5.7zM461.69,275.9L464.54,281.6M461.69,275.9L458.84,281.6" fill="none" stroke="#a9a9a9" stroke-width="1.15" stroke-linejoin="round"/>
<circle cx="461.69" cy="293.95" r="2.85" fill="none" stroke="#a9a9a9" stroke-width="1.15"/>
<circle cx="455.99" cy="309.65" r="2.85" fill="#000"/>
<polygon points="455.99,282.11 459.83,288.75 452.15,288.75" fill="#000"/>
<polygon points="453.14,274.5 455.99,271.65 458.84,274.5 455.99,277.35" fill="#000"/>
<path d="M453.14,312.17h5.7v5.7h-5.7zM455.99,312.17L458.84,317.87M455.99,312.17L453.14,317.87" fill="none" stroke="#000" stroke-width="1.15" stroke-linejoin="round"/>
<circle cx="455.99" cy="318.56" r="2.85" fill="none" stroke="#000" stroke-width="1.15"/>
<circle cx="478.22" cy="263.56" r="2.85" fill="#a9a9a9"/>
<polygon points="478.22,233.99 482.06,240.64 474.38,240.64" fill="#a9a9a9"/>
<polygon points="475.37,227.29 478.22,224.44 481.07,227.29 478.22,230.14" fill="#a9a9a9"/>
<path d="M475.37,277.12h5.7v5.7h-5.7zM478.22,277.12L481.07,282.82M478.22,277.12L475.37,282.82" fill="none" stroke="#a9a9a9" stroke-width="1.15" stroke-linejoin="round"/>
<circle cx="478.22" cy="293.24" r="2.85" fill="none" stroke="#a9a9a9" stroke-width="1.15"/>
<circle cx="472.52" cy="301.54" r="2.85" fill="#000"/>
<polygon points="472.52,265.19 476.36,271.84 468.68,271.84" fill="#000"/>
<polygon points="469.67,272.37 472.52,269.52 475.37,272.37 472.52,275.22" fill="#000"/>
<path d="M469.67,308.11h5.7v5.7h-5.7zM472.52,308.11L475.37,313.81M472.52,308.11L469.67,313.81" fill="none" stroke="#000" stroke-width="1.15" stroke-linejoin="round"/>
<circle cx="472.52" cy="316.74" r="2.85" fill="none" stroke="#000" stroke-width="1.15"/>
<circle cx="494.75" cy="254.64" r="2.85" fill="#a9a9a9"/>
<polygon points="494.75,198.03 498.59,204.68 490.91,204.68" fill="#a9a9a9"/>
<polygon points="491.9,175.32 494.75,172.47 497.6,175.32 494.75,178.17" fill="#a9a9a9"/>
<path d="M491.9,255.64h5.7v5.7h-5.7zM494.75,255.64L497.6,261.34M494.75,255.64L491.9,261.34" fill="none" stroke="#a9a9a9" stroke-width="1.15" stroke-linejoin="round"/>
<circle cx="494.75" cy="261.53" r="2.85" fill="none" stroke="#a9a9a9" stroke-width="1.15"/>
<circle cx="489.05" cy="288.37" r="2.85" fill="#000"/>
<polygon points="489.05,223.35 492.89,230 485.21,230" fill="#000"/>
<polygon points="486.2,115.56 489.05,112.71 491.9,115.56 489.05,118.41" fill="#000"/>
<path d="M486.2,299.91h5.7v5.7h-5.7zM489.05,299.91L491.9,305.61M489.05,299.91L486.2,305.61" fill="none" stroke="#000" stroke-width="1.15" stroke-linejoin="round"/>
<circle cx="489.05" cy="305.9" r="2.85" fill="none" stroke="#000" stroke-width="1.15"/>
<circle cx="511.28" cy="232.66" r="2.85" fill="#a9a9a9"/>
<polygon points="511.28,212.92 515.12,219.57 507.44,219.57" fill="#a9a9a9"/>
<polygon points="508.43,179.88 511.28,177.03 514.13,179.88 511.28,182.73" fill="#a9a9a9"/>
<path d="M508.43,240.65h5.7v5.7h-5.7zM511.28,240.65L514.13,246.35M511.28,240.65L508.43,246.35" fill="none" stroke="#a9a9a9" stroke-width="1.15" stroke-linejoin="round"/>
<circle cx="511.28" cy="243.5" r="2.85" fill="none" stroke="#a9a9a9" stroke-width="1.15"/>
<circle cx="505.58" cy="269.13" r="2.85" fill="#000"/>
<polygon points="505.58,242.8 509.42,249.45 501.74,249.45" fill="#000"/>
<polygon points="502.73,163.37 505.58,160.52 508.43,163.37 505.58,166.22" fill="#000"/>
<path d="M502.73,266.28h5.7v5.7h-5.7zM505.58,266.28L508.43,271.98M505.58,266.28L502.73,271.98" fill="none" stroke="#000" stroke-width="1.15" stroke-linejoin="round"/>
<circle cx="505.58" cy="242.18" r="2.85" fill="none" stroke="#000" stroke-width="1.15"/>
<circle cx="527.81" cy="255.96" r="2.85" fill="#a9a9a9"/>
<polygon points="527.81,227.1 531.65,233.75 523.97,233.75" fill="#a9a9a9"/>
<polygon points="524.96,219.69 527.81,216.84 530.66,219.69 527.81,222.54" fill="#a9a9a9"/>
<path d="M524.96,268.81h5.7v5.7h-5.7zM527.81,268.81L530.66,274.51M527.81,268.81L524.96,274.51" fill="none" stroke="#a9a9a9" stroke-width="1.15" stroke-linejoin="round"/>
<circle cx="527.81" cy="280.78" r="2.85" fill="none" stroke="#a9a9a9" stroke-width="1.15"/>
<circle cx="522.11" cy="305.9" r="2.85" fill="#000"/>
<polygon points="522.11,287.98 525.95,294.63 518.27,294.63" fill="#000"/>
<polygon points="519.26,250.08 522.11,247.23 524.96,250.08 522.11,252.93" fill="#000"/>
<path d="M519.26,307.61h5.7v5.7h-5.7zM522.11,307.61L524.96,313.31M522.11,307.61L519.26,313.31" fill="none" stroke="#000" stroke-width="1.15" stroke-linejoin="round"/>
<circle cx="522.11" cy="316.03" r="2.85" fill="none" stroke="#000" stroke-width="1.15"/>
<circle cx="544.34" cy="260.52" r="2.85" fill="#a9a9a9"/>
<polygon points="544.34,232.77 548.18,239.42 540.5,239.42" fill="#a9a9a9"/>
<polygon points="541.49,228.61 544.34,225.76 547.19,228.61 544.34,231.46" fill="#a9a9a9"/>
<path d="M541.49,274.58h5.7v5.7h-5.7zM544.34,274.58L547.19,280.28M544.34,274.58L541.49,280.28" fill="none" stroke="#a9a9a9" stroke-width="1.15" stroke-linejoin="round"/>
<circle cx="544.34" cy="290.91" r="2.85" fill="none" stroke="#a9a9a9" stroke-width="1.15"/>
<circle cx="538.64" cy="309.14" r="2.85" fill="#000"/>
<polygon points="538.64,293.86 542.48,300.51 534.8,300.51" fill="#000"/>
<polygon points="535.79,275 538.64,272.15 541.49,275 538.64,277.85" fill="#000"/>
<path d="M535.79,312.67h5.7v5.7h-5.7zM538.64,312.67L541.49,318.37M538.64,312.67L535.79,318.37" fill="none" stroke="#000" stroke-width="1.15" stroke-linejoin="round"/>
<circle cx="538.64" cy="319.27" r="2.85" fill="none" stroke="#000" stroke-width="1.15"/>
<circle cx="560.87" cy="262.24" r="2.85" fill="#a9a9a9"/>
<polygon points="560.87,239.36 564.71,246.01 557.03,246.01" fill="#a9a9a9"/>
<polygon points="558.02,231.04 560.87,228.19 563.72,231.04 560.87,233.89" fill="#a9a9a9"/>
<path d="M558.02,279.24h5.7v5.7h-5.7zM560.87,279.24L563.72,284.94M560.87,279.24L558.02,284.94" fill="none" stroke="#a9a9a9" stroke-width="1.15" stroke-linejoin="round"/>
<circle cx="560.87" cy="290.91" r="2.85" fill="none" stroke="#a9a9a9" stroke-width="1.15"/>
<circle cx="555.17" cy="305.39" r="2.85" fill="#000"/>
<polygon points="555.17,281.7 559.01,288.35 551.33,288.35" fill="#000"/>
<polygon points="552.32,273.18 555.17,270.33 558.02,273.18 555.17,276.03" fill="#000"/>
<path d="M552.32,310.14h5.7v5.7h-5.7zM555.17,310.14L558.02,315.84M555.17,310.14L552.32,315.84" fill="none" stroke="#000" stroke-width="1.15" stroke-linejoin="round"/>
<circle cx="555.17" cy="316.74" r="2.85" fill="none" stroke="#000" stroke-width="1.15"/>
<text class="tk" transform="translate(46.9,334.5) scale(1,1.09)" text-anchor="end">0</text>
<text class="tk" transform="translate(46.9,233.2) scale(1,1.09)" text-anchor="end">10</text>
<text class="tk" transform="translate(46.9,131.9) scale(1,1.09)" text-anchor="end">20</text>
<text class="tk" transform="translate(46.9,30.6) scale(1,1.09)" text-anchor="end">30</text>
<text class="tt" transform="translate(25.3,168.25) rotate(-90) scale(1.01,1.055)" text-anchor="middle">Error rate [%]</text>
<text class="tk" transform="translate(75.1,335.6) rotate(-45) scale(1,1.09)" text-anchor="end" dominant-baseline="hanging">simRes-fsMax</text>
<text class="tk" transform="translate(91.63,335.6) rotate(-45) scale(1,1.09)" text-anchor="end" dominant-baseline="hanging">simRes-fsAvg</text>
<text class="tk" transform="translate(108.16,335.6) rotate(-45) scale(1,1.09)" text-anchor="end" dominant-baseline="hanging">simRes-fsBMM</text>
<text class="tk" transform="translate(124.69,335.6) rotate(-45) scale(1,1.09)" text-anchor="end" dominant-baseline="hanging">simRes-fsBMA</text>
<text class="tk" transform="translate(141.22,335.6) rotate(-45) scale(1,1.09)" text-anchor="end" dominant-baseline="hanging">simRes-fsABM</text>
<text class="tk" transform="translate(157.75,335.6) rotate(-45) scale(1,1.09)" text-anchor="end" dominant-baseline="hanging">simLin-fsMax</text>
<text class="tk" transform="translate(174.28,335.6) rotate(-45) scale(1,1.09)" text-anchor="end" dominant-baseline="hanging">simLin-fsAvg</text>
<text class="tk" transform="translate(190.81,335.6) rotate(-45) scale(1,1.09)" text-anchor="end" dominant-baseline="hanging">simLin-fsBMM</text>
<text class="tk" transform="translate(207.34,335.6) rotate(-45) scale(1,1.09)" text-anchor="end" dominant-baseline="hanging">simLin-fsBMA</text>
<text class="tk" transform="translate(223.87,335.6) rotate(-45) scale(1,1.09)" text-anchor="end" dominant-baseline="hanging">simLin-fsABM</text>
<text class="tk" transform="translate(240.4,335.6) rotate(-45) scale(1,1.09)" text-anchor="end" dominant-baseline="hanging">simRel-fsMax</text>
<text class="tk" transform="translate(256.93,335.6) rotate(-45) scale(1,1.09)" text-anchor="end" dominant-baseline="hanging">simRel-fsAvg</text>
<text class="tk" transform="translate(273.46,335.6) rotate(-45) scale(1,1.09)" text-anchor="end" dominant-baseline="hanging">simRel-fsBMM</text>
<text class="tk" transform="translate(289.99,335.6) rotate(-45) scale(1,1.09)" text-anchor="end" dominant-baseline="hanging">simRel-fsBMA</text>
<text class="tk" transform="translate(306.52,335.6) rotate(-45) scale(1,1.09)" text-anchor="end" dominant-baseline="hanging">simRel-fsABM</text>
<text class="tk" transform="translate(323.05,335.6) rotate(-45) scale(1,1.09)" text-anchor="end" dominant-baseline="hanging">simIC-fsMax</text>
<text class="tk" transform="translate(339.58,335.6) rotate(-45) scale(1,1.09)" text-anchor="end" dominant-baseline="hanging">simIC-fsAvg</text>
<text class="tk" transform="translate(356.11,335.6) rotate(-45) scale(1,1.09)" text-anchor="end" dominant-baseline="hanging">simIC-fsBMM</text>
<text class="tk" transform="translate(372.64,335.6) rotate(-45) scale(1,1.09)" text-anchor="end" dominant-baseline="hanging">simIC-fsBMA</text>
<text class="tk" transform="translate(389.17,335.6) rotate(-45) scale(1,1.09)" text-anchor="end" dominant-baseline="hanging">simIC-fsABM</text>
<text class="tk" transform="translate(405.7,335.6) rotate(-45) scale(1,1.09)" text-anchor="end" dominant-baseline="hanging">simJC-fsMax</text>
<text class="tk" transform="translate(422.23,335.6) rotate(-45) scale(1,1.09)" text-anchor="end" dominant-baseline="hanging">simJC-fsAvg</text>
<text class="tk" transform="translate(438.76,335.6) rotate(-45) scale(1,1.09)" text-anchor="end" dominant-baseline="hanging">simJC-fsBMM</text>
<text class="tk" transform="translate(455.29,335.6) rotate(-45) scale(1,1.09)" text-anchor="end" dominant-baseline="hanging">simJC-fsBMA</text>
<text class="tk" transform="translate(471.82,335.6) rotate(-45) scale(1,1.09)" text-anchor="end" dominant-baseline="hanging">simJC-fsABM</text>
<text class="tk" transform="translate(488.35,335.6) rotate(-45) scale(1,1.09)" text-anchor="end" dominant-baseline="hanging">simGIC-fsMax</text>
<text class="tk" transform="translate(504.88,335.6) rotate(-45) scale(1,1.09)" text-anchor="end" dominant-baseline="hanging">simGIC-fsAvg</text>
<text class="tk" transform="translate(521.41,335.6) rotate(-45) scale(1,1.09)" text-anchor="end" dominant-baseline="hanging">simGIC-fsBMM</text>
<text class="tk" transform="translate(537.94,335.6) rotate(-45) scale(1,1.09)" text-anchor="end" dominant-baseline="hanging">simGIC-fsBMA</text>
<text class="tk" transform="translate(554.47,335.6) rotate(-45) scale(1,1.09)" text-anchor="end" dominant-baseline="hanging">simGIC-fsABM</text>
<text class="tt" transform="translate(318.3,427.2) scale(1,1.055)" text-anchor="middle">Functional similarity (human/mouse)</text>
<text class="tag" transform="translate(1.5,15.5) scale(0.95,1.04)">a</text>
<text class="tt" transform="translate(571.4,109.2) scale(1,1.02)">ontology</text>
<circle cx="584.3" cy="127.7" r="2.85" fill="#000"/>
<text class="tk" transform="translate(599.3,132.7) scale(1,1.09)">BP</text>
<polygon points="584.3,147.87 588.14,154.52 580.46,154.52" fill="#000"/>
<text class="tk" transform="translate(599.3,157.3) scale(1,1.09)">MF</text>
<polygon points="581.45,176.9 584.3,174.05 587.15,176.9 584.3,179.75" fill="#000"/>
<text class="tk" transform="translate(599.3,181.9) scale(1,1.09)">CC</text>
<path d="M581.45,198.65h5.7v5.7h-5.7zM584.3,198.65L587.15,204.35M584.3,198.65L581.45,204.35" fill="none" stroke="#000" stroke-width="1.15" stroke-linejoin="round"/>
<text class="tk" transform="translate(599.3,206.5) scale(1,1.09)">BP+MF</text>
<circle cx="584.3" cy="226.1" r="2.85" fill="none" stroke="#000" stroke-width="1.15"/>
<text class="tk" transform="translate(599.3,231.1) scale(1,1.09)">BP+MF+CC</text>
</g>
<g>
<line x1="71.1" x2="565.5" y1="723.65" y2="723.65" stroke="#f4f4f4" stroke-width="0.9"/>
<line x1="71.1" x2="565.5" y1="622.35" y2="622.35" stroke="#f4f4f4" stroke-width="0.9"/>
<line x1="71.1" x2="565.5" y1="521.05" y2="521.05" stroke="#f4f4f4" stroke-width="0.9"/>
<line x1="84.06" x2="84.06" y1="447.1" y2="778" stroke="#f4f4f4" stroke-width="0.9"/>
<line x1="100.59" x2="100.59" y1="447.1" y2="778" stroke="#f4f4f4" stroke-width="0.9"/>
<line x1="117.12" x2="117.12" y1="447.1" y2="778" stroke="#f4f4f4" stroke-width="0.9"/>
<line x1="133.66" x2="133.66" y1="447.1" y2="778" stroke="#f4f4f4" stroke-width="0.9"/>
<line x1="150.19" x2="150.19" y1="447.1" y2="778" stroke="#f4f4f4" stroke-width="0.9"/>
<line x1="166.72" x2="166.72" y1="447.1" y2="778" stroke="#f4f4f4" stroke-width="0.9"/>
<line x1="183.25" x2="183.25" y1="447.1" y2="778" stroke="#f4f4f4" stroke-width="0.9"/>
<line x1="199.78" x2="199.78" y1="447.1" y2="778" stroke="#f4f4f4" stroke-width="0.9"/>
<line x1="216.31" x2="216.31" y1="447.1" y2="778" stroke="#f4f4f4" stroke-width="0.9"/>
<line x1="232.84" x2="232.84" y1="447.1" y2="778" stroke="#f4f4f4" stroke-width="0.9"/>
<line x1="249.37" x2="249.37" y1="447.1" y2="778" stroke="#f4f4f4" stroke-width="0.9"/>
<line x1="265.9" x2="265.9" y1="447.1" y2="778" stroke="#f4f4f4" stroke-width="0.9"/>
<line x1="282.43" x2="282.43" y1="447.1" y2="778" stroke="#f4f4f4" stroke-width="0.9"/>
<line x1="298.96" x2="298.96" y1="447.1" y2="778" stroke="#f4f4f4" stroke-width="0.9"/>
<line x1="315.49" x2="315.49" y1="447.1" y2="778" stroke="#f4f4f4" stroke-width="0.9"/>
<line x1="332.02" x2="332.02" y1="447.1" y2="778" stroke="#f4f4f4" stroke-width="0.9"/>
<line x1="348.55" x2="348.55" y1="447.1" y2="778" stroke="#f4f4f4" stroke-width="0.9"/>
<line x1="365.08" x2="365.08" y1="447.1" y2="778" stroke="#f4f4f4" stroke-width="0.9"/>
<line x1="381.61" x2="381.61" y1="447.1" y2="778" stroke="#f4f4f4" stroke-width="0.9"/>
<line x1="398.14" x2="398.14" y1="447.1" y2="778" stroke="#f4f4f4" stroke-width="0.9"/>
<line x1="414.67" x2="414.67" y1="447.1" y2="778" stroke="#f4f4f4" stroke-width="0.9"/>
<line x1="431.2" x2="431.2" y1="447.1" y2="778" stroke="#f4f4f4" stroke-width="0.9"/>
<line x1="447.73" x2="447.73" y1="447.1" y2="778" stroke="#f4f4f4" stroke-width="0.9"/>
<line x1="464.26" x2="464.26" y1="447.1" y2="778" stroke="#f4f4f4" stroke-width="0.9"/>
<line x1="480.79" x2="480.79" y1="447.1" y2="778" stroke="#f4f4f4" stroke-width="0.9"/>
<line x1="497.32" x2="497.32" y1="447.1" y2="778" stroke="#f4f4f4" stroke-width="0.9"/>
<line x1="513.85" x2="513.85" y1="447.1" y2="778" stroke="#f4f4f4" stroke-width="0.9"/>
<line x1="530.38" x2="530.38" y1="447.1" y2="778" stroke="#f4f4f4" stroke-width="0.9"/>
<line x1="546.9" x2="546.9" y1="447.1" y2="778" stroke="#f4f4f4" stroke-width="0.9"/>
<line x1="563.44" x2="563.44" y1="447.1" y2="778" stroke="#f4f4f4" stroke-width="0.9"/>
<line x1="71.1" x2="565.5" y1="774.3" y2="774.3" stroke="#ebebeb" stroke-width="1.5"/>
<line x1="71.1" x2="565.5" y1="673" y2="673" stroke="#ebebeb" stroke-width="1.5"/>
<line x1="71.1" x2="565.5" y1="571.7" y2="571.7" stroke="#ebebeb" stroke-width="1.5"/>
<line x1="71.1" x2="565.5" y1="470.4" y2="470.4" stroke="#ebebeb" stroke-width="1.5"/>
<line x1="75.8" x2="75.8" y1="447.1" y2="778" stroke="#ebebeb" stroke-width="1.5"/>
<line x1="92.33" x2="92.33" y1="447.1" y2="778" stroke="#ebebeb" stroke-width="1.5"/>
<line x1="108.86" x2="108.86" y1="447.1" y2="778" stroke="#ebebeb" stroke-width="1.5"/>
<line x1="125.39" x2="125.39" y1="447.1" y2="778" stroke="#ebebeb" stroke-width="1.5"/>
<line x1="141.92" x2="141.92" y1="447.1" y2="778" stroke="#ebebeb" stroke-width="1.5"/>
<line x1="158.45" x2="158.45" y1="447.1" y2="778" stroke="#ebebeb" stroke-width="1.5"/>
<line x1="174.98" x2="174.98" y1="447.1" y2="778" stroke="#ebebeb" stroke-width="1.5"/>
<line x1="191.51" x2="191.51" y1="447.1" y2="778" stroke="#ebebeb" stroke-width="1.5"/>
<line x1="208.04" x2="208.04" y1="447.1" y2="778" stroke="#ebebeb" stroke-width="1.5"/>
<line x1="224.57" x2="224.57" y1="447.1" y2="778" stroke="#ebebeb" stroke-width="1.5"/>
<line x1="241.1" x2="241.1" y1="447.1" y2="778" stroke="#ebebeb" stroke-width="1.5"/>
<line x1="257.63" x2="257.63" y1="447.1" y2="778" stroke="#ebebeb" stroke-width="1.5"/>
<line x1="274.16" x2="274.16" y1="447.1" y2="778" stroke="#ebebeb" stroke-width="1.5"/>
<line x1="290.69" x2="290.69" y1="447.1" y2="778" stroke="#ebebeb" stroke-width="1.5"/>
<line x1="307.22" x2="307.22" y1="447.1" y2="778" stroke="#ebebeb" stroke-width="1.5"/>
<line x1="323.75" x2="323.75" y1="447.1" y2="778" stroke="#ebebeb" stroke-width="1.5"/>
<line x1="340.28" x2="340.28" y1="447.1" y2="778" stroke="#ebebeb" stroke-width="1.5"/>
<line x1="356.81" x2="356.81" y1="447.1" y2="778" stroke="#ebebeb" stroke-width="1.5"/>
<line x1="373.34" x2="373.34" y1="447.1" y2="778" stroke="#ebebeb" stroke-width="1.5"/>
<line x1="389.87" x2="389.87" y1="447.1" y2="778" stroke="#ebebeb" stroke-width="1.5"/>
<line x1="406.4" x2="406.4" y1="447.1" y2="778" stroke="#ebebeb" stroke-width="1.5"/>
<line x1="422.93" x2="422.93" y1="447.1" y2="778" stroke="#ebebeb" stroke-width="1.5"/>
<line x1="439.46" x2="439.46" y1="447.1" y2="778" stroke="#ebebeb" stroke-width="1.5"/>
<line x1="455.99" x2="455.99" y1="447.1" y2="778" stroke="#ebebeb" stroke-width="1.5"/>
<line x1="472.52" x2="472.52" y1="447.1" y2="778" stroke="#ebebeb" stroke-width="1.5"/>
<line x1="489.05" x2="489.05" y1="447.1" y2="778" stroke="#ebebeb" stroke-width="1.5"/>
<line x1="505.58" x2="505.58" y1="447.1" y2="778" stroke="#ebebeb" stroke-width="1.5"/>
<line x1="522.11" x2="522.11" y1="447.1" y2="778" stroke="#ebebeb" stroke-width="1.5"/>
<line x1="538.64" x2="538.64" y1="447.1" y2="778" stroke="#ebebeb" stroke-width="1.5"/>
<line x1="555.17" x2="555.17" y1="447.1" y2="778" stroke="#ebebeb" stroke-width="1.5"/>
<circle cx="81.5" cy="588.11" r="2.85" fill="#a9a9a9"/>
<polygon points="81.5,617.6 85.34,624.25 77.66,624.25" fill="#a9a9a9"/>
<polygon points="78.65,535.43 81.5,532.58 84.35,535.43 81.5,538.28" fill="#a9a9a9"/>
<path d="M78.65,666.91h5.7v5.7h-5.7zM81.5,666.91L84.35,672.61M81.5,666.91L78.65,672.61" fill="none" stroke="#a9a9a9" stroke-width="1.15" stroke-linejoin="round"/>
<circle cx="81.5" cy="692.55" r="2.85" fill="none" stroke="#a9a9a9" stroke-width="1.15"/>
<circle cx="75.8" cy="554.68" r="2.85" fill="#000"/>
<polygon points="75.8,645.56 79.64,652.21 71.96,652.21" fill="#000"/>
<polygon points="72.95,525.3 75.8,522.45 78.65,525.3 75.8,528.15" fill="#000"/>
<path d="M72.95,643.61h5.7v5.7h-5.7zM75.8,643.61L78.65,649.31M75.8,643.61L72.95,649.31" fill="none" stroke="#000" stroke-width="1.15" stroke-linejoin="round"/>
<circle cx="75.8" cy="681.31" r="2.85" fill="none" stroke="#000" stroke-width="1.15"/>
<circle cx="98.03" cy="483.06" r="2.85" fill="#a9a9a9"/>
<polygon points="98.03,588.33 101.87,594.97 94.19,594.97" fill="#a9a9a9"/>
<polygon points="95.18,494.91 98.03,492.06 100.88,494.91 98.03,497.76" fill="#a9a9a9"/>
<path d="M95.18,588.91h5.7v5.7h-5.7zM98.03,588.91L100.88,594.61M98.03,588.91L95.18,594.61" fill="none" stroke="#a9a9a9" stroke-width="1.15" stroke-linejoin="round"/>
<circle cx="98.03" cy="611.71" r="2.85" fill="none" stroke="#a9a9a9" stroke-width="1.15"/>
<circle cx="92.33" cy="548.1" r="2.85" fill="#000"/>
<polygon points="92.33,650.62 96.17,657.27 88.49,657.27" fill="#000"/>
<polygon points="89.48,462.7 92.33,459.85 95.18,462.7 92.33,465.55" fill="#000"/>
<path d="M89.48,646.14h5.7v5.7h-5.7zM92.33,646.14L95.18,651.84M92.33,646.14L89.48,651.84" fill="none" stroke="#000" stroke-width="1.15" stroke-linejoin="round"/>
<circle cx="92.33" cy="622.35" r="2.85" fill="none" stroke="#000" stroke-width="1.15"/>
<circle cx="114.56" cy="582.54" r="2.85" fill="#a9a9a9"/>
<polygon points="114.56,619.83 118.4,626.48 110.72,626.48" fill="#a9a9a9"/>
<polygon points="111.71,534.22 114.56,531.37 117.41,534.22 114.56,537.07" fill="#a9a9a9"/>
<path d="M111.71,665.9h5.7v5.7h-5.7zM114.56,665.9L117.41,671.6M114.56,665.9L111.71,671.6" fill="none" stroke="#a9a9a9" stroke-width="1.15" stroke-linejoin="round"/>
<circle cx="114.56" cy="688.9" r="2.85" fill="none" stroke="#a9a9a9" stroke-width="1.15"/>
<circle cx="108.86" cy="575.45" r="2.85" fill="#000"/>
<polygon points="108.86,649.81 112.7,656.46 105.02,656.46" fill="#000"/>
<polygon points="106.01,502.51 108.86,499.66 111.71,502.51 108.86,505.36" fill="#000"/>
<path d="M106.01,670.25h5.7v5.7h-5.7zM108.86,670.25L111.71,675.95M108.86,670.25L106.01,675.95" fill="none" stroke="#000" stroke-width="1.15" stroke-linejoin="round"/>
<circle cx="108.86" cy="690.73" r="2.85" fill="none" stroke="#000" stroke-width="1.15"/>
<circle cx="131.09" cy="586.39" r="2.85" fill="#a9a9a9"/>
<polygon points="131.09,618.11 134.93,624.76 127.25,624.76" fill="#a9a9a9"/>
<polygon points="128.24,538.78 131.09,535.93 133.94,538.78 131.09,541.63" fill="#a9a9a9"/>
<path d="M128.24,672.68h5.7v5.7h-5.7zM131.09,672.68L133.94,678.38M131.09,672.68L128.24,678.38" fill="none" stroke="#a9a9a9" stroke-width="1.15" stroke-linejoin="round"/>
<circle cx="131.09" cy="694.58" r="2.85" fill="none" stroke="#a9a9a9" stroke-width="1.15"/>
<circle cx="125.39" cy="585.58" r="2.85" fill="#000"/>
<polygon points="125.39,661.16 129.23,667.81 121.55,667.81" fill="#000"/>
<polygon points="122.54,510.11 125.39,507.26 128.24,510.11 125.39,512.96" fill="#000"/>
<path d="M122.54,678.96h5.7v5.7h-5.7zM125.39,678.96L128.24,684.66M125.39,678.96L122.54,684.66" fill="none" stroke="#000" stroke-width="1.15" stroke-linejoin="round"/>
<circle cx="125.39" cy="702.17" r="2.85" fill="none" stroke="#000" stroke-width="1.15"/>
<circle cx="147.62" cy="574.74" r="2.85" fill="#a9a9a9"/>
<polygon points="147.62,610 151.46,616.65 143.78,616.65" fill="#a9a9a9"/>
<polygon points="144.77,533.71 147.62,530.86 150.47,533.71 147.62,536.56" fill="#a9a9a9"/>
<path d="M144.77,665.08h5.7v5.7h-5.7zM147.62,665.08L150.47,670.78M147.62,665.08L144.77,670.78" fill="none" stroke="#a9a9a9" stroke-width="1.15" stroke-linejoin="round"/>
<circle cx="147.62" cy="690.73" r="2.85" fill="none" stroke="#a9a9a9" stroke-width="1.15"/>
<circle cx="141.92" cy="573.62" r="2.85" fill="#000"/>
<polygon points="141.92,655.18 145.76,661.83 138.08,661.83" fill="#000"/>
<polygon points="139.07,509.1 141.92,506.25 144.77,509.1 141.92,511.95" fill="#000"/>
<path d="M139.07,668.43h5.7v5.7h-5.7zM141.92,668.43L144.77,674.13M141.92,668.43L139.07,674.13" fill="none" stroke="#000" stroke-width="1.15" stroke-linejoin="round"/>
<circle cx="141.92" cy="690.02" r="2.85" fill="none" stroke="#000" stroke-width="1.15"/>
<circle cx="164.15" cy="612.22" r="2.85" fill="#a9a9a9"/>
<polygon points="164.15,613.14 167.99,619.79 160.31,619.79" fill="#a9a9a9"/>
<polygon points="161.3,570.38 164.15,567.53 167,570.38 164.15,573.23" fill="#a9a9a9"/>
<path d="M161.3,659.51h5.7v5.7h-5.7zM164.15,659.51L167,665.21M164.15,659.51L161.3,665.21" fill="none" stroke="#a9a9a9" stroke-width="1.15" stroke-linejoin="round"/>
<circle cx="164.15" cy="675.03" r="2.85" fill="none" stroke="#a9a9a9" stroke-width="1.15"/>
<circle cx="158.45" cy="659.83" r="2.85" fill="#000"/>
<polygon points="158.45,655.18 162.29,661.83 154.61,661.83" fill="#000"/>
<polygon points="155.6,584.36 158.45,581.51 161.3,584.36 158.45,587.21" fill="#000"/>
<path d="M155.6,678.36h5.7v5.7h-5.7zM158.45,678.36L161.3,684.06M158.45,678.36L155.6,684.06" fill="none" stroke="#000" stroke-width="1.15" stroke-linejoin="round"/>
<circle cx="158.45" cy="691.54" r="2.85" fill="none" stroke="#000" stroke-width="1.15"/>
<circle cx="180.68" cy="478.5" r="2.85" fill="#a9a9a9"/>
<polygon points="180.68,602.41 184.52,609.05 176.84,609.05" fill="#a9a9a9"/>
<polygon points="177.83,521.05 180.68,518.2 183.53,521.05 180.68,523.9" fill="#a9a9a9"/>
<path d="M177.83,605.12h5.7v5.7h-5.7zM180.68,605.12L183.53,610.82M180.68,605.12L177.83,610.82" fill="none" stroke="#a9a9a9" stroke-width="1.15" stroke-linejoin="round"/>
<circle cx="180.68" cy="611" r="2.85" fill="none" stroke="#a9a9a9" stroke-width="1.15"/>
<circle cx="174.98" cy="552.15" r="2.85" fill="#000"/>
<polygon points="174.98,643.74 178.82,650.38 171.14,650.38" fill="#000"/>
<polygon points="172.13,483.06 174.98,480.21 177.83,483.06 174.98,485.91" fill="#000"/>
<path d="M172.13,656.17h5.7v5.7h-5.7zM174.98,656.17L177.83,661.87M174.98,656.17L172.13,661.87" fill="none" stroke="#000" stroke-width="1.15" stroke-linejoin="round"/>
<circle cx="174.98" cy="609.69" r="2.85" fill="none" stroke="#000" stroke-width="1.15"/>
<circle cx="197.21" cy="579.09" r="2.85" fill="#a9a9a9"/>
<polygon points="197.21,619.73 201.05,626.38 193.37,626.38" fill="#a9a9a9"/>
<polygon points="194.36,576.76 197.21,573.91 200.06,576.76 197.21,579.61" fill="#a9a9a9"/>
<path d="M194.36,670.96h5.7v5.7h-5.7zM197.21,670.96L200.06,676.66M197.21,670.96L194.36,676.66" fill="none" stroke="#a9a9a9" stroke-width="1.15" stroke-linejoin="round"/>
<circle cx="197.21" cy="673.81" r="2.85" fill="none" stroke="#a9a9a9" stroke-width="1.15"/>
<circle cx="191.51" cy="620.53" r="2.85" fill="#000"/>
<polygon points="191.51,668.25 195.35,674.9 187.67,674.9" fill="#000"/>
<polygon points="188.66,581.22 191.51,578.37 194.36,581.22 191.51,584.07" fill="#000"/>
<path d="M188.66,703.88h5.7v5.7h-5.7zM191.51,703.88L194.36,709.58M191.51,703.88L188.66,709.58" fill="none" stroke="#000" stroke-width="1.15" stroke-linejoin="round"/>
<circle cx="191.51" cy="702.88" r="2.85" fill="none" stroke="#000" stroke-width="1.15"/>
<circle cx="213.74" cy="588.62" r="2.85" fill="#a9a9a9"/>
<polygon points="213.74,621.45 217.58,628.1 209.9,628.1" fill="#a9a9a9"/>
<polygon points="210.89,582.54 213.74,579.69 216.59,582.54 213.74,585.39" fill="#a9a9a9"/>
<path d="M210.89,673.09h5.7v5.7h-5.7zM213.74,673.09L216.59,678.79M213.74,673.09L210.89,678.79" fill="none" stroke="#a9a9a9" stroke-width="1.15" stroke-linejoin="round"/>
<circle cx="213.74" cy="688.09" r="2.85" fill="none" stroke="#a9a9a9" stroke-width="1.15"/>
<circle cx="208.04" cy="636.23" r="2.85" fill="#000"/>
<polygon points="208.04,681.01 211.88,687.66 204.2,687.66" fill="#000"/>
<polygon points="205.19,580.01 208.04,577.16 210.89,580.01 208.04,582.86" fill="#000"/>
<path d="M205.19,713.71h5.7v5.7h-5.7zM208.04,713.71L210.89,719.41M208.04,713.71L205.19,719.41" fill="none" stroke="#000" stroke-width="1.15" stroke-linejoin="round"/>
<circle cx="208.04" cy="710.99" r="2.85" fill="none" stroke="#000" stroke-width="1.15"/>
<circle cx="230.27" cy="569.17" r="2.85" fill="#a9a9a9"/>
<polygon points="230.27,610 234.11,616.65 226.43,616.65" fill="#a9a9a9"/>
<polygon points="227.42,569.17 230.27,566.32 233.12,569.17 230.27,572.02" fill="#a9a9a9"/>
<path d="M227.42,661.24h5.7v5.7h-5.7zM230.27,661.24L233.12,666.94M230.27,661.24L227.42,666.94" fill="none" stroke="#a9a9a9" stroke-width="1.15" stroke-linejoin="round"/>
<circle cx="230.27" cy="675.03" r="2.85" fill="none" stroke="#a9a9a9" stroke-width="1.15"/>
<circle cx="224.57" cy="605.84" r="2.85" fill="#000"/>
<polygon points="224.57,647.99 228.41,654.64 220.73,654.64" fill="#000"/>
<polygon points="221.72,539.99 224.57,537.14 227.42,539.99 224.57,542.84" fill="#000"/>
<path d="M221.72,691.02h5.7v5.7h-5.7zM224.57,691.02L227.42,696.72M224.57,691.02L221.72,696.72" fill="none" stroke="#000" stroke-width="1.15" stroke-linejoin="round"/>
<circle cx="224.57" cy="690.73" r="2.85" fill="none" stroke="#000" stroke-width="1.15"/>
<circle cx="246.8" cy="616.07" r="2.85" fill="#a9a9a9"/>
<polygon points="246.8,617.09 250.64,623.74 242.96,623.74" fill="#a9a9a9"/>
<polygon points="243.95,575.45 246.8,572.6 249.65,575.45 246.8,578.3" fill="#a9a9a9"/>
<path d="M243.95,679.57h5.7v5.7h-5.7zM246.8,679.57L249.65,685.27M246.8,679.57L243.95,685.27" fill="none" stroke="#a9a9a9" stroke-width="1.15" stroke-linejoin="round"/>
<circle cx="246.8" cy="688.9" r="2.85" fill="none" stroke="#a9a9a9" stroke-width="1.15"/>
<circle cx="241.1" cy="654.06" r="2.85" fill="#000"/>
<polygon points="241.1,656.91 244.94,663.55 237.26,663.55" fill="#000"/>
<polygon points="238.25,568.36 241.1,565.51 243.95,568.36 241.1,571.21" fill="#000"/>
<path d="M238.25,676.43h5.7v5.7h-5.7zM241.1,676.43L243.95,682.13M241.1,676.43L238.25,682.13" fill="none" stroke="#000" stroke-width="1.15" stroke-linejoin="round"/>
<circle cx="241.1" cy="696.3" r="2.85" fill="none" stroke="#000" stroke-width="1.15"/>
<circle cx="263.33" cy="491.37" r="2.85" fill="#a9a9a9"/>
<polygon points="263.33,610.51 267.17,617.16 259.49,617.16" fill="#a9a9a9"/>
<polygon points="260.48,534.93 263.33,532.08 266.18,534.93 263.33,537.78" fill="#a9a9a9"/>
<path d="M260.48,615.65h5.7v5.7h-5.7zM263.33,615.65L266.18,621.35M263.33,615.65L260.48,621.35" fill="none" stroke="#a9a9a9" stroke-width="1.15" stroke-linejoin="round"/>
<circle cx="263.33" cy="621.54" r="2.85" fill="none" stroke="#a9a9a9" stroke-width="1.15"/>
<circle cx="257.63" cy="562.79" r="2.85" fill="#000"/>
<polygon points="257.63,656.1 261.47,662.74 253.79,662.74" fill="#000"/>
<polygon points="254.78,483.06 257.63,480.21 260.48,483.06 257.63,485.91" fill="#000"/>
<path d="M254.78,665.59h5.7v5.7h-5.7zM257.63,665.59L260.48,671.29M257.63,665.59L254.78,671.29" fill="none" stroke="#000" stroke-width="1.15" stroke-linejoin="round"/>
<circle cx="257.63" cy="615.16" r="2.85" fill="none" stroke="#000" stroke-width="1.15"/>
<circle cx="279.86" cy="582.34" r="2.85" fill="#a9a9a9"/>
<polygon points="279.86,626.01 283.7,632.66 276.02,632.66" fill="#a9a9a9"/>
<polygon points="277.01,582.34 279.86,579.49 282.71,582.34 279.86,585.19" fill="#a9a9a9"/>
<path d="M277.01,673.49h5.7v5.7h-5.7zM279.86,673.49L282.71,679.19M279.86,673.49L277.01,679.19" fill="none" stroke="#a9a9a9" stroke-width="1.15" stroke-linejoin="round"/>
<circle cx="279.86" cy="692.75" r="2.85" fill="none" stroke="#a9a9a9" stroke-width="1.15"/>
<circle cx="274.16" cy="619.51" r="2.85" fill="#000"/>
<polygon points="274.16,669.06 278,675.71 270.32,675.71" fill="#000"/>
<polygon points="271.31,576.76 274.16,573.91 277.01,576.76 274.16,579.61" fill="#000"/>
<path d="M271.31,703.88h5.7v5.7h-5.7zM274.16,703.88L277.01,709.58M274.16,703.88L271.31,709.58" fill="none" stroke="#000" stroke-width="1.15" stroke-linejoin="round"/>
<circle cx="274.16" cy="704.71" r="2.85" fill="none" stroke="#000" stroke-width="1.15"/>
<circle cx="296.39" cy="591.45" r="2.85" fill="#a9a9a9"/>
<polygon points="296.39,628.54 300.23,635.19 292.55,635.19" fill="#a9a9a9"/>
<polygon points="293.54,588.62 296.39,585.77 299.24,588.62 296.39,591.47" fill="#a9a9a9"/>
<path d="M293.54,680.79h5.7v5.7h-5.7zM296.39,680.79L299.24,686.49M296.39,680.79L293.54,686.49" fill="none" stroke="#a9a9a9" stroke-width="1.15" stroke-linejoin="round"/>
<circle cx="296.39" cy="700.45" r="2.85" fill="none" stroke="#a9a9a9" stroke-width="1.15"/>
<circle cx="290.69" cy="632.99" r="2.85" fill="#000"/>
<polygon points="290.69,683.55 294.53,690.2 286.85,690.2" fill="#000"/>
<polygon points="287.84,573.42 290.69,570.57 293.54,573.42 290.69,576.27" fill="#000"/>
<path d="M287.84,711.18h5.7v5.7h-5.7zM290.69,711.18L293.54,716.88M290.69,711.18L287.84,716.88" fill="none" stroke="#000" stroke-width="1.15" stroke-linejoin="round"/>
<circle cx="290.69" cy="712.3" r="2.85" fill="none" stroke="#000" stroke-width="1.15"/>
<circle cx="312.92" cy="574.23" r="2.85" fill="#a9a9a9"/>
<polygon points="312.92,618.41 316.76,625.06 309.08,625.06" fill="#a9a9a9"/>
<polygon points="310.07,574.23 312.92,571.38 315.77,574.23 312.92,577.08" fill="#a9a9a9"/>
<path d="M310.07,668.43h5.7v5.7h-5.7zM312.92,668.43L315.77,674.13M312.92,668.43L310.07,674.13" fill="none" stroke="#a9a9a9" stroke-width="1.15" stroke-linejoin="round"/>
<circle cx="312.92" cy="686.98" r="2.85" fill="none" stroke="#a9a9a9" stroke-width="1.15"/>
<circle cx="307.22" cy="604.62" r="2.85" fill="#000"/>
<polygon points="307.22,659.44 311.06,666.09 303.38,666.09" fill="#000"/>
<polygon points="304.37,541.31 307.22,538.46 310.07,541.31 307.22,544.16" fill="#000"/>
<path d="M304.37,690.51h5.7v5.7h-5.7zM307.22,690.51L310.07,696.21M307.22,690.51L304.37,696.21" fill="none" stroke="#000" stroke-width="1.15" stroke-linejoin="round"/>
<circle cx="307.22" cy="693.36" r="2.85" fill="none" stroke="#000" stroke-width="1.15"/>
<circle cx="329.45" cy="620.53" r="2.85" fill="#a9a9a9"/>
<polygon points="329.45,624.49 333.29,631.14 325.61,631.14" fill="#a9a9a9"/>
<polygon points="326.6,576.26 329.45,573.41 332.3,576.26 329.45,579.11" fill="#a9a9a9"/>
<path d="M326.6,685.24h5.7v5.7h-5.7zM329.45,685.24L332.3,690.94M329.45,685.24L326.6,690.94" fill="none" stroke="#a9a9a9" stroke-width="1.15" stroke-linejoin="round"/>
<circle cx="329.45" cy="705.92" r="2.85" fill="none" stroke="#a9a9a9" stroke-width="1.15"/>
<circle cx="323.75" cy="641.29" r="2.85" fill="#000"/>
<polygon points="323.75,651.33 327.59,657.98 319.91,657.98" fill="#000"/>
<polygon points="320.9,565.82 323.75,562.97 326.6,565.82 323.75,568.67" fill="#000"/>
<path d="M320.9,691.73h5.7v5.7h-5.7zM323.75,691.73L326.6,697.43M323.75,691.73L320.9,697.43" fill="none" stroke="#000" stroke-width="1.15" stroke-linejoin="round"/>
<circle cx="323.75" cy="708.56" r="2.85" fill="none" stroke="#000" stroke-width="1.15"/>
<circle cx="345.98" cy="513.45" r="2.85" fill="#a9a9a9"/>
<polygon points="345.98,618.92 349.82,625.57 342.14,625.57" fill="#a9a9a9"/>
<polygon points="343.13,550.12 345.98,547.27 348.83,550.12 345.98,552.97" fill="#a9a9a9"/>
<path d="M343.13,631.35h5.7v5.7h-5.7zM345.98,631.35L348.83,637.05M345.98,631.35L343.13,637.05" fill="none" stroke="#a9a9a9" stroke-width="1.15" stroke-linejoin="round"/>
<circle cx="345.98" cy="641.29" r="2.85" fill="none" stroke="#a9a9a9" stroke-width="1.15"/>
<circle cx="340.28" cy="579.3" r="2.85" fill="#000"/>
<polygon points="340.28,668.35 344.12,675 336.44,675" fill="#000"/>
<polygon points="337.43,503.83 340.28,500.98 343.13,503.83 340.28,506.68" fill="#000"/>
<path d="M337.43,678.96h5.7v5.7h-5.7zM340.28,678.96L343.13,684.66M340.28,678.96L337.43,684.66" fill="none" stroke="#000" stroke-width="1.15" stroke-linejoin="round"/>
<circle cx="340.28" cy="635.52" r="2.85" fill="none" stroke="#000" stroke-width="1.15"/>
<circle cx="362.51" cy="595.71" r="2.85" fill="#a9a9a9"/>
<polygon points="362.51,630.26 366.35,636.91 358.67,636.91" fill="#a9a9a9"/>
<polygon points="359.66,584.06 362.51,581.21 365.36,584.06 362.51,586.91" fill="#a9a9a9"/>
<path d="M359.66,684.13h5.7v5.7h-5.7zM362.51,684.13L365.36,689.83M362.51,684.13L359.66,689.83" fill="none" stroke="#a9a9a9" stroke-width="1.15" stroke-linejoin="round"/>
<circle cx="362.51" cy="701.36" r="2.85" fill="none" stroke="#a9a9a9" stroke-width="1.15"/>
<circle cx="356.81" cy="630.76" r="2.85" fill="#000"/>
<polygon points="356.81,675.95 360.65,682.6 352.97,682.6" fill="#000"/>
<polygon points="353.96,563.29 356.81,560.44 359.66,563.29 356.81,566.14" fill="#000"/>
<path d="M353.96,706.92h5.7v5.7h-5.7zM356.81,706.92L359.66,712.62M356.81,706.92L353.96,712.62" fill="none" stroke="#000" stroke-width="1.15" stroke-linejoin="round"/>
<circle cx="356.81" cy="716.86" r="2.85" fill="none" stroke="#000" stroke-width="1.15"/>
<circle cx="379.04" cy="605.84" r="2.85" fill="#a9a9a9"/>
<polygon points="379.04,633.61 382.88,640.25 375.2,640.25" fill="#a9a9a9"/>
<polygon points="376.19,590.14 379.04,587.29 381.89,590.14 379.04,592.99" fill="#a9a9a9"/>
<path d="M376.19,689.9h5.7v5.7h-5.7zM379.04,689.9L381.89,695.6M379.04,689.9L376.19,695.6" fill="none" stroke="#a9a9a9" stroke-width="1.15" stroke-linejoin="round"/>
<circle cx="379.04" cy="710.48" r="2.85" fill="none" stroke="#a9a9a9" stroke-width="1.15"/>
<circle cx="373.34" cy="639.47" r="2.85" fill="#000"/>
<polygon points="373.34,686.08 377.18,692.73 369.5,692.73" fill="#000"/>
<polygon points="370.49,572.92 373.34,570.07 376.19,572.92 373.34,575.77" fill="#000"/>
<path d="M370.49,714.52h5.7v5.7h-5.7zM373.34,714.52L376.19,720.22M373.34,714.52L370.49,720.22" fill="none" stroke="#000" stroke-width="1.15" stroke-linejoin="round"/>
<circle cx="373.34" cy="725.78" r="2.85" fill="none" stroke="#000" stroke-width="1.15"/>
<circle cx="395.57" cy="591.96" r="2.85" fill="#a9a9a9"/>
<polygon points="395.57,626.52 399.41,633.16 391.73,633.16" fill="#a9a9a9"/>
<polygon points="392.72,582.34 395.57,579.49 398.42,582.34 395.57,585.19" fill="#a9a9a9"/>
<path d="M392.72,680.38h5.7v5.7h-5.7zM395.57,680.38L398.42,686.08M395.57,680.38L392.72,686.08" fill="none" stroke="#a9a9a9" stroke-width="1.15" stroke-linejoin="round"/>
<circle cx="395.57" cy="701.16" r="2.85" fill="none" stroke="#a9a9a9" stroke-width="1.15"/>
<circle cx="389.87" cy="616.78" r="2.85" fill="#000"/>
<polygon points="389.87,672.51 393.71,679.15 386.03,679.15" fill="#000"/>
<polygon points="387.02,555.69 389.87,552.84 392.72,555.69 389.87,558.54" fill="#000"/>
<path d="M387.02,701.05h5.7v5.7h-5.7zM389.87,701.05L392.72,706.75M389.87,701.05L387.02,706.75" fill="none" stroke="#000" stroke-width="1.15" stroke-linejoin="round"/>
<circle cx="389.87" cy="709.77" r="2.85" fill="none" stroke="#000" stroke-width="1.15"/>
<circle cx="412.1" cy="593.68" r="2.85" fill="#a9a9a9"/>
<polygon points="412.1,601.19 415.94,607.84 408.26,607.84" fill="#a9a9a9"/>
<polygon points="409.25,560.25 412.1,557.4 414.95,560.25 412.1,563.1" fill="#a9a9a9"/>
<path d="M409.25,654.45h5.7v5.7h-5.7zM412.1,654.45L414.95,660.15M412.1,654.45L409.25,660.15" fill="none" stroke="#a9a9a9" stroke-width="1.15" stroke-linejoin="round"/>
<circle cx="412.1" cy="663.38" r="2.85" fill="none" stroke="#a9a9a9" stroke-width="1.15"/>
<circle cx="406.4" cy="654.06" r="2.85" fill="#000"/>
<polygon points="406.4,653.87 410.24,660.51 402.56,660.51" fill="#000"/>
<polygon points="403.55,575.45 406.4,572.6 409.25,575.45 406.4,578.3" fill="#000"/>
<path d="M403.55,682.1h5.7v5.7h-5.7zM406.4,682.1L409.25,687.8M406.4,682.1L403.55,687.8" fill="none" stroke="#000" stroke-width="1.15" stroke-linejoin="round"/>
<circle cx="406.4" cy="695.08" r="2.85" fill="none" stroke="#000" stroke-width="1.15"/>
<circle cx="428.63" cy="514.97" r="2.85" fill="#a9a9a9"/>
<polygon points="428.63,595.32 432.47,601.96 424.79,601.96" fill="#a9a9a9"/>
<polygon points="425.78,510.92 428.63,508.07 431.48,510.92 428.63,513.77" fill="#a9a9a9"/>
<path d="M425.78,629.63h5.7v5.7h-5.7zM428.63,629.63L431.48,635.33M428.63,629.63L425.78,635.33" fill="none" stroke="#a9a9a9" stroke-width="1.15" stroke-linejoin="round"/>
<circle cx="428.63" cy="612.73" r="2.85" fill="none" stroke="#a9a9a9" stroke-width="1.15"/>
<circle cx="422.93" cy="525.3" r="2.85" fill="#000"/>
<polygon points="422.93,622.26 426.77,628.91 419.09,628.91" fill="#000"/>
<polygon points="420.08,493.6 422.93,490.75 425.78,493.6 422.93,496.45" fill="#000"/>
<path d="M420.08,637.73h5.7v5.7h-5.7zM422.93,637.73L425.78,643.43M422.93,637.73L420.08,643.43" fill="none" stroke="#000" stroke-width="1.15" stroke-linejoin="round"/>
<circle cx="422.93" cy="613.94" r="2.85" fill="none" stroke="#000" stroke-width="1.15"/>
<circle cx="445.16" cy="588.92" r="2.85" fill="#a9a9a9"/>
<polygon points="445.16,606.96 449,613.61 441.32,613.61" fill="#a9a9a9"/>
<polygon points="442.31,567.85 445.16,565 448.01,567.85 445.16,570.7" fill="#a9a9a9"/>
<path d="M442.31,660.53h5.7v5.7h-5.7zM445.16,660.53L448.01,666.23M445.16,660.53L442.31,666.23" fill="none" stroke="#a9a9a9" stroke-width="1.15" stroke-linejoin="round"/>
<circle cx="445.16" cy="656.08" r="2.85" fill="none" stroke="#a9a9a9" stroke-width="1.15"/>
<circle cx="439.46" cy="631.97" r="2.85" fill="#000"/>
<polygon points="439.46,666.33 443.3,672.97 435.62,672.97" fill="#000"/>
<polygon points="436.61,580.01 439.46,577.16 442.31,580.01 439.46,582.86" fill="#000"/>
<path d="M436.61,697.6h5.7v5.7h-5.7zM439.46,697.6L442.31,703.3M439.46,697.6L436.61,703.3" fill="none" stroke="#000" stroke-width="1.15" stroke-linejoin="round"/>
<circle cx="439.46" cy="680.7" r="2.85" fill="none" stroke="#000" stroke-width="1.15"/>
<circle cx="461.69" cy="593.88" r="2.85" fill="#a9a9a9"/>
<polygon points="461.69,607.98 465.53,614.63 457.85,614.63" fill="#a9a9a9"/>
<polygon points="458.84,571.19 461.69,568.34 464.54,571.19 461.69,574.04" fill="#a9a9a9"/>
<path d="M458.84,660.02h5.7v5.7h-5.7zM461.69,660.02L464.54,665.72M461.69,660.02L458.84,665.72" fill="none" stroke="#a9a9a9" stroke-width="1.15" stroke-linejoin="round"/>
<circle cx="461.69" cy="664.59" r="2.85" fill="none" stroke="#a9a9a9" stroke-width="1.15"/>
<circle cx="455.99" cy="639.37" r="2.85" fill="#000"/>
<polygon points="455.99,665.82 459.83,672.47 452.15,672.47" fill="#000"/>
<polygon points="453.14,581.83 455.99,578.98 458.84,581.83 455.99,584.68" fill="#000"/>
<path d="M453.14,701.05h5.7v5.7h-5.7zM455.99,701.05L458.84,706.75M455.99,701.05L453.14,706.75" fill="none" stroke="#000" stroke-width="1.15" stroke-linejoin="round"/>
<circle cx="455.99" cy="697.62" r="2.85" fill="none" stroke="#000" stroke-width="1.15"/>
<circle cx="478.22" cy="589.43" r="2.85" fill="#a9a9a9"/>
<polygon points="478.22,606.76 482.06,613.41 474.38,613.41" fill="#a9a9a9"/>
<polygon points="475.37,556.5 478.22,553.65 481.07,556.5 478.22,559.35" fill="#a9a9a9"/>
<path d="M475.37,657.49h5.7v5.7h-5.7zM478.22,657.49L481.07,663.19M478.22,657.49L475.37,663.19" fill="none" stroke="#a9a9a9" stroke-width="1.15" stroke-linejoin="round"/>
<circle cx="478.22" cy="660.34" r="2.85" fill="none" stroke="#a9a9a9" stroke-width="1.15"/>
<circle cx="472.52" cy="630.76" r="2.85" fill="#000"/>
<polygon points="472.52,644.24 476.36,650.89 468.68,650.89" fill="#000"/>
<polygon points="469.67,554.48 472.52,551.63 475.37,554.48 472.52,557.33" fill="#000"/>
<path d="M469.67,691.12h5.7v5.7h-5.7zM472.52,691.12L475.37,696.82M472.52,691.12L469.67,696.82" fill="none" stroke="#000" stroke-width="1.15" stroke-linejoin="round"/>
<circle cx="472.52" cy="686.98" r="2.85" fill="none" stroke="#000" stroke-width="1.15"/>
<circle cx="494.75" cy="602.8" r="2.85" fill="#a9a9a9"/>
<polygon points="494.75,608.79 498.59,615.44 490.91,615.44" fill="#a9a9a9"/>
<polygon points="491.9,556.5 494.75,553.65 497.6,556.5 494.75,559.35" fill="#a9a9a9"/>
<path d="M491.9,659.51h5.7v5.7h-5.7zM494.75,659.51L497.6,665.21M494.75,659.51L491.9,665.21" fill="none" stroke="#a9a9a9" stroke-width="1.15" stroke-linejoin="round"/>
<circle cx="494.75" cy="665.4" r="2.85" fill="none" stroke="#a9a9a9" stroke-width="1.15"/>
<circle cx="489.05" cy="657.8" r="2.85" fill="#000"/>
<polygon points="489.05,656.1 492.89,662.74 485.21,662.74" fill="#000"/>
<polygon points="486.2,577.98 489.05,575.13 491.9,577.98 489.05,580.83" fill="#000"/>
<path d="M486.2,685.34h5.7v5.7h-5.7zM489.05,685.34L491.9,691.04M489.05,685.34L486.2,691.04" fill="none" stroke="#000" stroke-width="1.15" stroke-linejoin="round"/>
<circle cx="489.05" cy="697.92" r="2.85" fill="none" stroke="#000" stroke-width="1.15"/>
<circle cx="511.28" cy="536.24" r="2.85" fill="#a9a9a9"/>
<polygon points="511.28,618.92 515.12,625.57 507.44,625.57" fill="#a9a9a9"/>
<polygon points="508.43,539.28 511.28,536.43 514.13,539.28 511.28,542.13" fill="#a9a9a9"/>
<path d="M508.43,647.86h5.7v5.7h-5.7zM511.28,647.86L514.13,653.56M511.28,647.86L508.43,653.56" fill="none" stroke="#a9a9a9" stroke-width="1.15" stroke-linejoin="round"/>
<circle cx="511.28" cy="636.73" r="2.85" fill="none" stroke="#a9a9a9" stroke-width="1.15"/>
<circle cx="505.58" cy="595.71" r="2.85" fill="#000"/>
<polygon points="505.58,675.14 509.42,681.79 501.74,681.79" fill="#000"/>
<polygon points="502.73,519.73 505.58,516.88 508.43,519.73 505.58,522.58" fill="#000"/>
<path d="M502.73,687.88h5.7v5.7h-5.7zM505.58,687.88L508.43,693.58M505.58,687.88L502.73,693.58" fill="none" stroke="#000" stroke-width="1.15" stroke-linejoin="round"/>
<circle cx="505.58" cy="628.63" r="2.85" fill="none" stroke="#000" stroke-width="1.15"/>
<circle cx="527.81" cy="591.96" r="2.85" fill="#a9a9a9"/>
<polygon points="527.81,614.66 531.65,621.31 523.97,621.31" fill="#a9a9a9"/>
<polygon points="524.96,562.79 527.81,559.94 530.66,562.79 527.81,565.64" fill="#a9a9a9"/>
<path d="M524.96,667.72h5.7v5.7h-5.7zM527.81,667.72L530.66,673.42M527.81,667.72L524.96,673.42" fill="none" stroke="#a9a9a9" stroke-width="1.15" stroke-linejoin="round"/>
<circle cx="527.81" cy="657.8" r="2.85" fill="none" stroke="#a9a9a9" stroke-width="1.15"/>
<circle cx="522.11" cy="650.21" r="2.85" fill="#000"/>
<polygon points="522.11,674.23 525.95,680.88 518.27,680.88" fill="#000"/>
<polygon points="519.26,586.19 522.11,583.34 524.96,586.19 522.11,589.04" fill="#000"/>
<path d="M519.26,708.14h5.7v5.7h-5.7zM522.11,708.14L524.96,713.84M522.11,708.14L519.26,713.84" fill="none" stroke="#000" stroke-width="1.15" stroke-linejoin="round"/>
<circle cx="522.11" cy="688.8" r="2.85" fill="none" stroke="#000" stroke-width="1.15"/>
<circle cx="544.34" cy="601.28" r="2.85" fill="#a9a9a9"/>
<polygon points="544.34,616.39 548.18,623.03 540.5,623.03" fill="#a9a9a9"/>
<polygon points="541.49,564.61 544.34,561.76 547.19,564.61 544.34,567.46" fill="#a9a9a9"/>
<path d="M541.49,668.43h5.7v5.7h-5.7zM544.34,668.43L547.19,674.13M544.34,668.43L541.49,674.13" fill="none" stroke="#a9a9a9" stroke-width="1.15" stroke-linejoin="round"/>
<circle cx="544.34" cy="668.44" r="2.85" fill="none" stroke="#a9a9a9" stroke-width="1.15"/>
<circle cx="538.64" cy="657.8" r="2.85" fill="#000"/>
<polygon points="538.64,681.01 542.48,687.66 534.8,687.66" fill="#000"/>
<polygon points="535.79,588.11 538.64,585.26 541.49,588.11 538.64,590.96" fill="#000"/>
<path d="M535.79,712.7h5.7v5.7h-5.7zM538.64,712.7L541.49,718.4M538.64,712.7L535.79,718.4" fill="none" stroke="#000" stroke-width="1.15" stroke-linejoin="round"/>
<circle cx="538.64" cy="705.21" r="2.85" fill="none" stroke="#000" stroke-width="1.15"/>
<circle cx="560.87" cy="595.71" r="2.85" fill="#a9a9a9"/>
<polygon points="560.87,617.3 564.71,623.95 557.03,623.95" fill="#a9a9a9"/>
<polygon points="558.02,557.72 560.87,554.87 563.72,557.72 560.87,560.57" fill="#a9a9a9"/>
<path d="M558.02,666.4h5.7v5.7h-5.7zM560.87,666.4L563.72,672.1M560.87,666.4L558.02,672.1" fill="none" stroke="#a9a9a9" stroke-width="1.15" stroke-linejoin="round"/>
<circle cx="560.87" cy="667.23" r="2.85" fill="none" stroke="#a9a9a9" stroke-width="1.15"/>
<circle cx="555.17" cy="649.7" r="2.85" fill="#000"/>
<polygon points="555.17,669.67 559.01,676.32 551.33,676.32" fill="#000"/>
<polygon points="552.32,560.76 555.17,557.91 558.02,560.76 555.17,563.61" fill="#000"/>
<path d="M552.32,706.21h5.7v5.7h-5.7zM555.17,706.21L558.02,711.91M555.17,706.21L552.32,711.91" fill="none" stroke="#000" stroke-width="1.15" stroke-linejoin="round"/>
<circle cx="555.17" cy="689.51" r="2.85" fill="none" stroke="#000" stroke-width="1.15"/>
<text class="tk" transform="translate(46.9,779.5) scale(1,1.09)" text-anchor="end">0</text>
<text class="tk" transform="translate(46.9,678.2) scale(1,1.09)" text-anchor="end">10</text>
<text class="tk" transform="translate(46.9,576.9) scale(1,1.09)" text-anchor="end">20</text>
<text class="tk" transform="translate(46.9,475.6) scale(1,1.09)" text-anchor="end">30</text>
<text class="tt" transform="translate(25.3,613.25) rotate(-90) scale(1.01,1.055)" text-anchor="middle">Error rate [%]</text>
<text class="tk" transform="translate(75.1,780.6) rotate(-45) scale(1,1.09)" text-anchor="end" dominant-baseline="hanging">simRes-fsMax</text>
<text class="tk" transform="translate(91.63,780.6) rotate(-45) scale(1,1.09)" text-anchor="end" dominant-baseline="hanging">simRes-fsAvg</text>
<text class="tk" transform="translate(108.16,780.6) rotate(-45) scale(1,1.09)" text-anchor="end" dominant-baseline="hanging">simRes-fsBMM</text>
<text class="tk" transform="translate(124.69,780.6) rotate(-45) scale(1,1.09)" text-anchor="end" dominant-baseline="hanging">simRes-fsBMA</text>
<text class="tk" transform="translate(141.22,780.6) rotate(-45) scale(1,1.09)" text-anchor="end" dominant-baseline="hanging">simRes-fsABM</text>
<text class="tk" transform="translate(157.75,780.6) rotate(-45) scale(1,1.09)" text-anchor="end" dominant-baseline="hanging">simLin-fsMax</text>
<text class="tk" transform="translate(174.28,780.6) rotate(-45) scale(1,1.09)" text-anchor="end" dominant-baseline="hanging">simLin-fsAvg</text>
<text class="tk" transform="translate(190.81,780.6) rotate(-45) scale(1,1.09)" text-anchor="end" dominant-baseline="hanging">simLin-fsBMM</text>
<text class="tk" transform="translate(207.34,780.6) rotate(-45) scale(1,1.09)" text-anchor="end" dominant-baseline="hanging">simLin-fsBMA</text>
<text class="tk" transform="translate(223.87,780.6) rotate(-45) scale(1,1.09)" text-anchor="end" dominant-baseline="hanging">simLin-fsABM</text>
<text class="tk" transform="translate(240.4,780.6) rotate(-45) scale(1,1.09)" text-anchor="end" dominant-baseline="hanging">simRel-fsMax</text>
<text class="tk" transform="translate(256.93,780.6) rotate(-45) scale(1,1.09)" text-anchor="end" dominant-baseline="hanging">simRel-fsAvg</text>
<text class="tk" transform="translate(273.46,780.6) rotate(-45) scale(1,1.09)" text-anchor="end" dominant-baseline="hanging">simRel-fsBMM</text>
<text class="tk" transform="translate(289.99,780.6) rotate(-45) scale(1,1.09)" text-anchor="end" dominant-baseline="hanging">simRel-fsBMA</text>
<text class="tk" transform="translate(306.52,780.6) rotate(-45) scale(1,1.09)" text-anchor="end" dominant-baseline="hanging">simRel-fsABM</text>
<text class="tk" transform="translate(323.05,780.6) rotate(-45) scale(1,1.09)" text-anchor="end" dominant-baseline="hanging">simIC-fsMax</text>
<text class="tk" transform="translate(339.58,780.6) rotate(-45) scale(1,1.09)" text-anchor="end" dominant-baseline="hanging">simIC-fsAvg</text>
<text class="tk" transform="translate(356.11,780.6) rotate(-45) scale(1,1.09)" text-anchor="end" dominant-baseline="hanging">simIC-fsBMM</text>
<text class="tk" transform="translate(372.64,780.6) rotate(-45) scale(1,1.09)" text-anchor="end" dominant-baseline="hanging">simIC-fsBMA</text>
<text class="tk" transform="translate(389.17,780.6) rotate(-45) scale(1,1.09)" text-anchor="end" dominant-baseline="hanging">simIC-fsABM</text>
<text class="tk" transform="translate(405.7,780.6) rotate(-45) scale(1,1.09)" text-anchor="end" dominant-baseline="hanging">simJC-fsMax</text>
<text class="tk" transform="translate(422.23,780.6) rotate(-45) scale(1,1.09)" text-anchor="end" dominant-baseline="hanging">simJC-fsAvg</text>
<text class="tk" transform="translate(438.76,780.6) rotate(-45) scale(1,1.09)" text-anchor="end" dominant-baseline="hanging">simJC-fsBMM</text>
<text class="tk" transform="translate(455.29,780.6) rotate(-45) scale(1,1.09)" text-anchor="end" dominant-baseline="hanging">simJC-fsBMA</text>
<text class="tk" transform="translate(471.82,780.6) rotate(-45) scale(1,1.09)" text-anchor="end" dominant-baseline="hanging">simJC-fsABM</text>
<text class="tk" transform="translate(488.35,780.6) rotate(-45) scale(1,1.09)" text-anchor="end" dominant-baseline="hanging">simGIC-fsMax</text>
<text class="tk" transform="translate(504.88,780.6) rotate(-45) scale(1,1.09)" text-anchor="end" dominant-baseline="hanging">simGIC-fsAvg</text>
<text class="tk" transform="translate(521.41,780.6) rotate(-45) scale(1,1.09)" text-anchor="end" dominant-baseline="hanging">simGIC-fsBMM</text>
<text class="tk" transform="translate(537.94,780.6) rotate(-45) scale(1,1.09)" text-anchor="end" dominant-baseline="hanging">simGIC-fsBMA</text>
<text class="tk" transform="translate(554.47,780.6) rotate(-45) scale(1,1.09)" text-anchor="end" dominant-baseline="hanging">simGIC-fsABM</text>
<text class="tt" transform="translate(318.3,872.2) scale(1,1.055)" text-anchor="middle">Functional similarity (human/fly)</text>
<text class="tag" transform="translate(1.5,458.6) scale(0.95,1.04)">b</text>
<text class="tt" transform="translate(571.4,554.2) scale(1,1.02)">ontology</text>
<circle cx="584.3" cy="572.7" r="2.85" fill="#000"/>
<text class="tk" transform="translate(599.3,577.7) scale(1,1.09)">BP</text>
<polygon points="584.3,592.87 588.14,599.52 580.46,599.52" fill="#000"/>
<text class="tk" transform="translate(599.3,602.3) scale(1,1.09)">MF</text>
<polygon points="581.45,621.9 584.3,619.05 587.15,621.9 584.3,624.75" fill="#000"/>
<text class="tk" transform="translate(599.3,626.9) scale(1,1.09)">CC</text>
<path d="M581.45,643.65h5.7v5.7h-5.7zM584.3,643.65L587.15,649.35M584.3,643.65L581.45,649.35" fill="none" stroke="#000" stroke-width="1.15" stroke-linejoin="round"/>
<text class="tk" transform="translate(599.3,651.5) scale(1,1.09)">BP+MF</text>
<circle cx="584.3" cy="671.1" r="2.85" fill="none" stroke="#000" stroke-width="1.15"/>
<text class="tk" transform="translate(599.3,676.1) scale(1,1.09)">BP+MF+CC</text>
</g>
<g>
<line x1="71.1" x2="565.5" y1="1167.95" y2="1167.95" stroke="#f4f4f4" stroke-width="0.9"/>
<line x1="71.1" x2="565.5" y1="1066.65" y2="1066.65" stroke="#f4f4f4" stroke-width="0.9"/>
<line x1="71.1" x2="565.5" y1="965.35" y2="965.35" stroke="#f4f4f4" stroke-width="0.9"/>
<line x1="84.06" x2="84.06" y1="891.4" y2="1222.3" stroke="#f4f4f4" stroke-width="0.9"/>
<line x1="100.59" x2="100.59" y1="891.4" y2="1222.3" stroke="#f4f4f4" stroke-width="0.9"/>
<line x1="117.12" x2="117.12" y1="891.4" y2="1222.3" stroke="#f4f4f4" stroke-width="0.9"/>
<line x1="133.66" x2="133.66" y1="891.4" y2="1222.3" stroke="#f4f4f4" stroke-width="0.9"/>
<line x1="150.19" x2="150.19" y1="891.4" y2="1222.3" stroke="#f4f4f4" stroke-width="0.9"/>
<line x1="166.72" x2="166.72" y1="891.4" y2="1222.3" stroke="#f4f4f4" stroke-width="0.9"/>
<line x1="183.25" x2="183.25" y1="891.4" y2="1222.3" stroke="#f4f4f4" stroke-width="0.9"/>
<line x1="199.78" x2="199.78" y1="891.4" y2="1222.3" stroke="#f4f4f4" stroke-width="0.9"/>
<line x1="216.31" x2="216.31" y1="891.4" y2="1222.3" stroke="#f4f4f4" stroke-width="0.9"/>
<line x1="232.84" x2="232.84" y1="891.4" y2="1222.3" stroke="#f4f4f4" stroke-width="0.9"/>
<line x1="249.37" x2="249.37" y1="891.4" y2="1222.3" stroke="#f4f4f4" stroke-width="0.9"/>
<line x1="265.9" x2="265.9" y1="891.4" y2="1222.3" stroke="#f4f4f4" stroke-width="0.9"/>
<line x1="282.43" x2="282.43" y1="891.4" y2="1222.3" stroke="#f4f4f4" stroke-width="0.9"/>
<line x1="298.96" x2="298.96" y1="891.4" y2="1222.3" stroke="#f4f4f4" stroke-width="0.9"/>
<line x1="315.49" x2="315.49" y1="891.4" y2="1222.3" stroke="#f4f4f4" stroke-width="0.9"/>
<line x1="332.02" x2="332.02" y1="891.4" y2="1222.3" stroke="#f4f4f4" stroke-width="0.9"/>
<line x1="348.55" x2="348.55" y1="891.4" y2="1222.3" stroke="#f4f4f4" stroke-width="0.9"/>
<line x1="365.08" x2="365.08" y1="891.4" y2="1222.3" stroke="#f4f4f4" stroke-width="0.9"/>
<line x1="381.61" x2="381.61" y1="891.4" y2="1222.3" stroke="#f4f4f4" stroke-width="0.9"/>
<line x1="398.14" x2="398.14" y1="891.4" y2="1222.3" stroke="#f4f4f4" stroke-width="0.9"/>
<line x1="414.67" x2="414.67" y1="891.4" y2="1222.3" stroke="#f4f4f4" stroke-width="0.9"/>
<line x1="431.2" x2="431.2" y1="891.4" y2="1222.3" stroke="#f4f4f4" stroke-width="0.9"/>
<line x1="447.73" x2="447.73" y1="891.4" y2="1222.3" stroke="#f4f4f4" stroke-width="0.9"/>
<line x1="464.26" x2="464.26" y1="891.4" y2="1222.3" stroke="#f4f4f4" stroke-width="0.9"/>
<line x1="480.79" x2="480.79" y1="891.4" y2="1222.3" stroke="#f4f4f4" stroke-width="0.9"/>
<line x1="497.32" x2="497.32" y1="891.4" y2="1222.3" stroke="#f4f4f4" stroke-width="0.9"/>
<line x1="513.85" x2="513.85" y1="891.4" y2="1222.3" stroke="#f4f4f4" stroke-width="0.9"/>
<line x1="530.38" x2="530.38" y1="891.4" y2="1222.3" stroke="#f4f4f4" stroke-width="0.9"/>
<line x1="546.9" x2="546.9" y1="891.4" y2="1222.3" stroke="#f4f4f4" stroke-width="0.9"/>
<line x1="563.44" x2="563.44" y1="891.4" y2="1222.3" stroke="#f4f4f4" stroke-width="0.9"/>
<line x1="71.1" x2="565.5" y1="1218.6" y2="1218.6" stroke="#ebebeb" stroke-width="1.5"/>
<line x1="71.1" x2="565.5" y1="1117.3" y2="1117.3" stroke="#ebebeb" stroke-width="1.5"/>
<line x1="71.1" x2="565.5" y1="1016" y2="1016" stroke="#ebebeb" stroke-width="1.5"/>
<line x1="71.1" x2="565.5" y1="914.7" y2="914.7" stroke="#ebebeb" stroke-width="1.5"/>
<line x1="75.8" x2="75.8" y1="891.4" y2="1222.3" stroke="#ebebeb" stroke-width="1.5"/>
<line x1="92.33" x2="92.33" y1="891.4" y2="1222.3" stroke="#ebebeb" stroke-width="1.5"/>
<line x1="108.86" x2="108.86" y1="891.4" y2="1222.3" stroke="#ebebeb" stroke-width="1.5"/>
<line x1="125.39" x2="125.39" y1="891.4" y2="1222.3" stroke="#ebebeb" stroke-width="1.5"/>
<line x1="141.92" x2="141.92" y1="891.4" y2="1222.3" stroke="#ebebeb" stroke-width="1.5"/>
<line x1="158.45" x2="158.45" y1="891.4" y2="1222.3" stroke="#ebebeb" stroke-width="1.5"/>
<line x1="174.98" x2="174.98" y1="891.4" y2="1222.3" stroke="#ebebeb" stroke-width="1.5"/>
<line x1="191.51" x2="191.51" y1="891.4" y2="1222.3" stroke="#ebebeb" stroke-width="1.5"/>
<line x1="208.04" x2="208.04" y1="891.4" y2="1222.3" stroke="#ebebeb" stroke-width="1.5"/>
<line x1="224.57" x2="224.57" y1="891.4" y2="1222.3" stroke="#ebebeb" stroke-width="1.5"/>
<line x1="241.1" x2="241.1" y1="891.4" y2="1222.3" stroke="#ebebeb" stroke-width="1.5"/>
<line x1="257.63" x2="257.63" y1="891.4" y2="1222.3" stroke="#ebebeb" stroke-width="1.5"/>
<line x1="274.16" x2="274.16" y1="891.4" y2="1222.3" stroke="#ebebeb" stroke-width="1.5"/>
<line x1="290.69" x2="290.69" y1="891.4" y2="1222.3" stroke="#ebebeb" stroke-width="1.5"/>
<line x1="307.22" x2="307.22" y1="891.4" y2="1222.3" stroke="#ebebeb" stroke-width="1.5"/>
<line x1="323.75" x2="323.75" y1="891.4" y2="1222.3" stroke="#ebebeb" stroke-width="1.5"/>
<line x1="340.28" x2="340.28" y1="891.4" y2="1222.3" stroke="#ebebeb" stroke-width="1.5"/>
<line x1="356.81" x2="356.81" y1="891.4" y2="1222.3" stroke="#ebebeb" stroke-width="1.5"/>
<line x1="373.34" x2="373.34" y1="891.4" y2="1222.3" stroke="#ebebeb" stroke-width="1.5"/>
<line x1="389.87" x2="389.87" y1="891.4" y2="1222.3" stroke="#ebebeb" stroke-width="1.5"/>
<line x1="406.4" x2="406.4" y1="891.4" y2="1222.3" stroke="#ebebeb" stroke-width="1.5"/>
<line x1="422.93" x2="422.93" y1="891.4" y2="1222.3" stroke="#ebebeb" stroke-width="1.5"/>
<line x1="439.46" x2="439.46" y1="891.4" y2="1222.3" stroke="#ebebeb" stroke-width="1.5"/>
<line x1="455.99" x2="455.99" y1="891.4" y2="1222.3" stroke="#ebebeb" stroke-width="1.5"/>
<line x1="472.52" x2="472.52" y1="891.4" y2="1222.3" stroke="#ebebeb" stroke-width="1.5"/>
<line x1="489.05" x2="489.05" y1="891.4" y2="1222.3" stroke="#ebebeb" stroke-width="1.5"/>
<line x1="505.58" x2="505.58" y1="891.4" y2="1222.3" stroke="#ebebeb" stroke-width="1.5"/>
<line x1="522.11" x2="522.11" y1="891.4" y2="1222.3" stroke="#ebebeb" stroke-width="1.5"/>
<line x1="538.64" x2="538.64" y1="891.4" y2="1222.3" stroke="#ebebeb" stroke-width="1.5"/>
<line x1="555.17" x2="555.17" y1="891.4" y2="1222.3" stroke="#ebebeb" stroke-width="1.5"/>
<circle cx="81.5" cy="1012.76" r="2.85" fill="#a9a9a9"/>
<polygon points="81.5,1072.03 85.34,1078.68 77.66,1078.68" fill="#a9a9a9"/>
<polygon points="78.65,975.48 81.5,972.63 84.35,975.48 81.5,978.33" fill="#a9a9a9"/>
<path d="M78.65,1106.35h5.7v5.7h-5.7zM81.5,1106.35L84.35,1112.05M81.5,1106.35L78.65,1112.05" fill="none" stroke="#a9a9a9" stroke-width="1.15" stroke-linejoin="round"/>
<circle cx="81.5" cy="1133.31" r="2.85" fill="none" stroke="#a9a9a9" stroke-width="1.15"/>
<circle cx="75.8" cy="998.78" r="2.85" fill="#000"/>
<polygon points="75.8,1093.1 79.64,1099.75 71.96,1099.75" fill="#000"/>
<polygon points="72.95,958.56 75.8,955.71 78.65,958.56 75.8,961.41" fill="#000"/>
<path d="M72.95,1086.59h5.7v5.7h-5.7zM75.8,1086.59L78.65,1092.29M75.8,1086.59L72.95,1092.29" fill="none" stroke="#000" stroke-width="1.15" stroke-linejoin="round"/>
<circle cx="75.8" cy="1123.68" r="2.85" fill="none" stroke="#000" stroke-width="1.15"/>
<circle cx="98.03" cy="939.32" r="2.85" fill="#a9a9a9"/>
<polygon points="98.03,1036.68 101.87,1043.33 94.19,1043.33" fill="#a9a9a9"/>
<polygon points="95.18,924.83 98.03,921.98 100.88,924.83 98.03,927.68" fill="#a9a9a9"/>
<path d="M95.18,1037.26h5.7v5.7h-5.7zM98.03,1037.26L100.88,1042.96M98.03,1037.26L95.18,1042.96" fill="none" stroke="#a9a9a9" stroke-width="1.15" stroke-linejoin="round"/>
<circle cx="98.03" cy="1052.27" r="2.85" fill="none" stroke="#a9a9a9" stroke-width="1.15"/>
<circle cx="92.33" cy="1002.83" r="2.85" fill="#000"/>
<polygon points="92.33,1090.37 96.17,1097.01 88.49,1097.01" fill="#000"/>
<polygon points="89.48,897.48 92.33,894.63 95.18,897.48 92.33,900.33" fill="#000"/>
<path d="M89.48,1098.04h5.7v5.7h-5.7zM92.33,1098.04L95.18,1103.74M92.33,1098.04L89.48,1103.74" fill="none" stroke="#000" stroke-width="1.15" stroke-linejoin="round"/>
<circle cx="92.33" cy="1073.03" r="2.85" fill="none" stroke="#000" stroke-width="1.15"/>
<circle cx="114.56" cy="1010.12" r="2.85" fill="#a9a9a9"/>
<polygon points="114.56,1074.16 118.4,1080.81 110.72,1080.81" fill="#a9a9a9"/>
<polygon points="111.71,975.48 114.56,972.63 117.41,975.48 114.56,978.33" fill="#a9a9a9"/>
<path d="M111.71,1108.17h5.7v5.7h-5.7zM114.56,1108.17L117.41,1113.87M114.56,1108.17L111.71,1113.87" fill="none" stroke="#a9a9a9" stroke-width="1.15" stroke-linejoin="round"/>
<circle cx="114.56" cy="1135.53" r="2.85" fill="none" stroke="#a9a9a9" stroke-width="1.15"/>
<circle cx="108.86" cy="1017.52" r="2.85" fill="#000"/>
<polygon points="108.86,1101.71 112.7,1108.36 105.02,1108.36" fill="#000"/>
<polygon points="106.01,940.84 108.86,937.99 111.71,940.84 108.86,943.69" fill="#000"/>
<path d="M106.01,1116.48h5.7v5.7h-5.7zM108.86,1116.48L111.71,1122.18M108.86,1116.48L106.01,1122.18" fill="none" stroke="#000" stroke-width="1.15" stroke-linejoin="round"/>
<circle cx="108.86" cy="1138.37" r="2.85" fill="none" stroke="#000" stroke-width="1.15"/>
<circle cx="131.09" cy="1019.85" r="2.85" fill="#a9a9a9"/>
<polygon points="131.09,1073.35 134.93,1080 127.25,1080" fill="#a9a9a9"/>
<polygon points="128.24,975.48 131.09,972.63 133.94,975.48 131.09,978.33" fill="#a9a9a9"/>
<path d="M128.24,1115.26h5.7v5.7h-5.7zM131.09,1115.26L133.94,1120.96M131.09,1115.26L128.24,1120.96" fill="none" stroke="#a9a9a9" stroke-width="1.15" stroke-linejoin="round"/>
<circle cx="131.09" cy="1136.34" r="2.85" fill="none" stroke="#a9a9a9" stroke-width="1.15"/>
<circle cx="125.39" cy="1030.69" r="2.85" fill="#000"/>
<polygon points="125.39,1109.31 129.23,1115.96 121.55,1115.96" fill="#000"/>
<polygon points="122.54,952.69 125.39,949.84 128.24,952.69 125.39,955.54" fill="#000"/>
<path d="M122.54,1125.29h5.7v5.7h-5.7zM125.39,1125.29L128.24,1130.99M125.39,1125.29L122.54,1130.99" fill="none" stroke="#000" stroke-width="1.15" stroke-linejoin="round"/>
<circle cx="125.39" cy="1145.97" r="2.85" fill="none" stroke="#000" stroke-width="1.15"/>
<circle cx="147.62" cy="1005.16" r="2.85" fill="#a9a9a9"/>
<polygon points="147.62,1058.96 151.46,1065.61 143.78,1065.61" fill="#a9a9a9"/>
<polygon points="144.77,968.69 147.62,965.84 150.47,968.69 147.62,971.54" fill="#a9a9a9"/>
<path d="M144.77,1106.14h5.7v5.7h-5.7zM147.62,1106.14L150.47,1111.84M147.62,1106.14L144.77,1111.84" fill="none" stroke="#a9a9a9" stroke-width="1.15" stroke-linejoin="round"/>
<circle cx="147.62" cy="1130.06" r="2.85" fill="none" stroke="#a9a9a9" stroke-width="1.15"/>
<circle cx="141.92" cy="1025.12" r="2.85" fill="#000"/>
<polygon points="141.92,1105.76 145.76,1112.41 138.08,1112.41" fill="#000"/>
<polygon points="139.07,944.38 141.92,941.53 144.77,944.38 141.92,947.23" fill="#000"/>
<path d="M139.07,1123.36h5.7v5.7h-5.7zM141.92,1123.36L144.77,1129.06M141.92,1123.36L139.07,1129.06" fill="none" stroke="#000" stroke-width="1.15" stroke-linejoin="round"/>
<circle cx="141.92" cy="1136.34" r="2.85" fill="none" stroke="#000" stroke-width="1.15"/>
<circle cx="164.15" cy="1038.79" r="2.85" fill="#a9a9a9"/>
<polygon points="164.15,1073.35 167.99,1080 160.31,1080" fill="#a9a9a9"/>
<polygon points="161.3,1013.97 164.15,1011.12 167,1013.97 164.15,1016.82" fill="#a9a9a9"/>
<path d="M161.3,1112.42h5.7v5.7h-5.7zM164.15,1112.42L167,1118.12M164.15,1112.42L161.3,1118.12" fill="none" stroke="#a9a9a9" stroke-width="1.15" stroke-linejoin="round"/>
<circle cx="164.15" cy="1112.94" r="2.85" fill="none" stroke="#a9a9a9" stroke-width="1.15"/>
<circle cx="158.45" cy="1097.04" r="2.85" fill="#000"/>
<polygon points="158.45,1108.8 162.29,1115.45 154.61,1115.45" fill="#000"/>
<polygon points="155.6,1027.45 158.45,1024.6 161.3,1027.45 158.45,1030.3" fill="#000"/>
<path d="M155.6,1130.15h5.7v5.7h-5.7zM158.45,1130.15L161.3,1135.85M158.45,1130.15L155.6,1135.85" fill="none" stroke="#000" stroke-width="1.15" stroke-linejoin="round"/>
<circle cx="158.45" cy="1140.9" r="2.85" fill="none" stroke="#000" stroke-width="1.15"/>
<circle cx="180.68" cy="934.45" r="2.85" fill="#a9a9a9"/>
<polygon points="180.68,1050.56 184.52,1057.2 176.84,1057.2" fill="#a9a9a9"/>
<polygon points="177.83,947.62 180.68,944.77 183.53,947.62 180.68,950.47" fill="#a9a9a9"/>
<path d="M177.83,1051.14h5.7v5.7h-5.7zM180.68,1051.14L183.53,1056.84M180.68,1051.14L177.83,1056.84" fill="none" stroke="#a9a9a9" stroke-width="1.15" stroke-linejoin="round"/>
<circle cx="180.68" cy="1045.17" r="2.85" fill="none" stroke="#a9a9a9" stroke-width="1.15"/>
<circle cx="174.98" cy="1006.38" r="2.85" fill="#000"/>
<polygon points="174.98,1076.39 178.82,1083.04 171.14,1083.04" fill="#000"/>
<polygon points="172.13,914.7 174.98,911.85 177.83,914.7 174.98,917.55" fill="#000"/>
<path d="M172.13,1098.75h5.7v5.7h-5.7zM174.98,1098.75L177.83,1104.45M174.98,1098.75L172.13,1104.45" fill="none" stroke="#000" stroke-width="1.15" stroke-linejoin="round"/>
<circle cx="174.98" cy="1050.24" r="2.85" fill="none" stroke="#000" stroke-width="1.15"/>
<circle cx="197.21" cy="1014.78" r="2.85" fill="#a9a9a9"/>
<polygon points="197.21,1075.37 201.05,1082.02 193.37,1082.02" fill="#a9a9a9"/>
<polygon points="194.36,1019.04 197.21,1016.19 200.06,1019.04 197.21,1021.89" fill="#a9a9a9"/>
<path d="M194.36,1115.26h5.7v5.7h-5.7zM197.21,1115.26L200.06,1120.96M197.21,1115.26L194.36,1120.96" fill="none" stroke="#a9a9a9" stroke-width="1.15" stroke-linejoin="round"/>
<circle cx="197.21" cy="1118.11" r="2.85" fill="none" stroke="#a9a9a9" stroke-width="1.15"/>
<circle cx="191.51" cy="1069.69" r="2.85" fill="#000"/>
<polygon points="191.51,1115.18 195.35,1121.83 187.67,1121.83" fill="#000"/>
<polygon points="188.66,1021.57 191.51,1018.72 194.36,1021.57 191.51,1024.42" fill="#000"/>
<path d="M188.66,1154.16h5.7v5.7h-5.7zM191.51,1154.16L194.36,1159.86M191.51,1154.16L188.66,1159.86" fill="none" stroke="#000" stroke-width="1.15" stroke-linejoin="round"/>
<circle cx="191.51" cy="1148.4" r="2.85" fill="none" stroke="#000" stroke-width="1.15"/>
<circle cx="213.74" cy="1026.13" r="2.85" fill="#a9a9a9"/>
<polygon points="213.74,1078.92 217.58,1085.57 209.9,1085.57" fill="#a9a9a9"/>
<polygon points="210.89,1026.13 213.74,1023.28 216.59,1026.13 213.74,1028.98" fill="#a9a9a9"/>
<path d="M210.89,1122.05h5.7v5.7h-5.7zM213.74,1122.05L216.59,1127.75M213.74,1122.05L210.89,1127.75" fill="none" stroke="#a9a9a9" stroke-width="1.15" stroke-linejoin="round"/>
<circle cx="213.74" cy="1129.25" r="2.85" fill="none" stroke="#a9a9a9" stroke-width="1.15"/>
<circle cx="208.04" cy="1081.14" r="2.85" fill="#000"/>
<polygon points="208.04,1123.49 211.88,1130.14 204.2,1130.14" fill="#000"/>
<polygon points="205.19,1019.04 208.04,1016.19 210.89,1019.04 208.04,1021.89" fill="#000"/>
<path d="M205.19,1157.5h5.7v5.7h-5.7zM208.04,1157.5L210.89,1163.2M208.04,1157.5L205.19,1163.2" fill="none" stroke="#000" stroke-width="1.15" stroke-linejoin="round"/>
<circle cx="208.04" cy="1154.58" r="2.85" fill="none" stroke="#000" stroke-width="1.15"/>
<circle cx="230.27" cy="1005.36" r="2.85" fill="#a9a9a9"/>
<polygon points="230.27,1062 234.11,1068.65 226.43,1068.65" fill="#a9a9a9"/>
<polygon points="227.42,1005.36 230.27,1002.51 233.12,1005.36 230.27,1008.21" fill="#a9a9a9"/>
<path d="M227.42,1107.66h5.7v5.7h-5.7zM230.27,1107.66L233.12,1113.36M230.27,1107.66L227.42,1113.36" fill="none" stroke="#a9a9a9" stroke-width="1.15" stroke-linejoin="round"/>
<circle cx="230.27" cy="1117.3" r="2.85" fill="none" stroke="#a9a9a9" stroke-width="1.15"/>
<circle cx="224.57" cy="1057.03" r="2.85" fill="#000"/>
<polygon points="224.57,1086.01 228.41,1092.66 220.73,1092.66" fill="#000"/>
<polygon points="221.72,980.04 224.57,977.19 227.42,980.04 224.57,982.89" fill="#000"/>
<path d="M221.72,1140.28h5.7v5.7h-5.7zM224.57,1140.28L227.42,1145.98M224.57,1140.28L221.72,1145.98" fill="none" stroke="#000" stroke-width="1.15" stroke-linejoin="round"/>
<circle cx="224.57" cy="1135.03" r="2.85" fill="none" stroke="#000" stroke-width="1.15"/>
<circle cx="246.8" cy="1040.11" r="2.85" fill="#a9a9a9"/>
<polygon points="246.8,1076.39 250.64,1083.04 242.96,1083.04" fill="#a9a9a9"/>
<polygon points="243.95,1016.51 246.8,1013.66 249.65,1016.51 246.8,1019.36" fill="#a9a9a9"/>
<path d="M243.95,1122.66h5.7v5.7h-5.7zM246.8,1122.66L249.65,1128.36M246.8,1122.66L243.95,1128.36" fill="none" stroke="#a9a9a9" stroke-width="1.15" stroke-linejoin="round"/>
<circle cx="246.8" cy="1130.47" r="2.85" fill="none" stroke="#a9a9a9" stroke-width="1.15"/>
<circle cx="241.1" cy="1091.16" r="2.85" fill="#000"/>
<polygon points="241.1,1110.83 244.94,1117.48 237.26,1117.48" fill="#000"/>
<polygon points="238.25,1012.96 241.1,1010.11 243.95,1012.96 241.1,1015.81" fill="#000"/>
<path d="M238.25,1132.89h5.7v5.7h-5.7zM241.1,1132.89L243.95,1138.59M241.1,1132.89L238.25,1138.59" fill="none" stroke="#000" stroke-width="1.15" stroke-linejoin="round"/>
<circle cx="241.1" cy="1143.44" r="2.85" fill="none" stroke="#000" stroke-width="1.15"/>
<circle cx="263.33" cy="945.9" r="2.85" fill="#a9a9a9"/>
<polygon points="263.33,1056.13 267.17,1062.78 259.49,1062.78" fill="#a9a9a9"/>
<polygon points="260.48,960.28 263.33,957.43 266.18,960.28 263.33,963.13" fill="#a9a9a9"/>
<path d="M260.48,1056.71h5.7v5.7h-5.7zM263.33,1056.71L266.18,1062.41M263.33,1056.71L260.48,1062.41" fill="none" stroke="#a9a9a9" stroke-width="1.15" stroke-linejoin="round"/>
<circle cx="263.33" cy="1055.3" r="2.85" fill="none" stroke="#a9a9a9" stroke-width="1.15"/>
<circle cx="257.63" cy="1016.71" r="2.85" fill="#000"/>
<polygon points="257.63,1086.52 261.47,1093.17 253.79,1093.17" fill="#000"/>
<polygon points="254.78,914.19 257.63,911.34 260.48,914.19 257.63,917.04" fill="#000"/>
<path d="M254.78,1105.64h5.7v5.7h-5.7zM257.63,1105.64L260.48,1111.34M257.63,1105.64L254.78,1111.34" fill="none" stroke="#000" stroke-width="1.15" stroke-linejoin="round"/>
<circle cx="257.63" cy="1057.84" r="2.85" fill="none" stroke="#000" stroke-width="1.15"/>
<circle cx="279.86" cy="1016.71" r="2.85" fill="#a9a9a9"/>
<polygon points="279.86,1080.44 283.7,1087.09 276.02,1087.09" fill="#a9a9a9"/>
<polygon points="277.01,1026.94 279.86,1024.09 282.71,1026.94 279.86,1029.79" fill="#a9a9a9"/>
<path d="M277.01,1118.81h5.7v5.7h-5.7zM279.86,1118.81L282.71,1124.51M279.86,1118.81L277.01,1124.51" fill="none" stroke="#a9a9a9" stroke-width="1.15" stroke-linejoin="round"/>
<circle cx="279.86" cy="1133.1" r="2.85" fill="none" stroke="#a9a9a9" stroke-width="1.15"/>
<circle cx="274.16" cy="1067.16" r="2.85" fill="#000"/>
<polygon points="274.16,1118.93 278,1125.58 270.32,1125.58" fill="#000"/>
<polygon points="271.31,1019.04 274.16,1016.19 277.01,1019.04 274.16,1021.89" fill="#000"/>
<path d="M271.31,1154.16h5.7v5.7h-5.7zM274.16,1154.16L277.01,1159.86M274.16,1154.16L271.31,1159.86" fill="none" stroke="#000" stroke-width="1.15" stroke-linejoin="round"/>
<circle cx="274.16" cy="1153.57" r="2.85" fill="none" stroke="#000" stroke-width="1.15"/>
<circle cx="296.39" cy="1028.16" r="2.85" fill="#a9a9a9"/>
<polygon points="296.39,1083.48 300.23,1090.13 292.55,1090.13" fill="#a9a9a9"/>
<polygon points="293.54,1034.23 296.39,1031.38 299.24,1034.23 296.39,1037.08" fill="#a9a9a9"/>
<path d="M293.54,1128.43h5.7v5.7h-5.7zM296.39,1128.43L299.24,1134.13M296.39,1128.43L293.54,1134.13" fill="none" stroke="#a9a9a9" stroke-width="1.15" stroke-linejoin="round"/>
<circle cx="296.39" cy="1140.9" r="2.85" fill="none" stroke="#a9a9a9" stroke-width="1.15"/>
<circle cx="290.69" cy="1078.6" r="2.85" fill="#000"/>
<polygon points="290.69,1127.04 294.53,1133.69 286.85,1133.69" fill="#000"/>
<polygon points="287.84,1013.97 290.69,1011.12 293.54,1013.97 290.69,1016.82" fill="#000"/>
<path d="M287.84,1158.01h5.7v5.7h-5.7zM290.69,1158.01L293.54,1163.71M290.69,1158.01L287.84,1163.71" fill="none" stroke="#000" stroke-width="1.15" stroke-linejoin="round"/>
<circle cx="290.69" cy="1156.1" r="2.85" fill="none" stroke="#000" stroke-width="1.15"/>
<circle cx="312.92" cy="1009.72" r="2.85" fill="#a9a9a9"/>
<polygon points="312.92,1068.28 316.76,1074.93 309.08,1074.93" fill="#a9a9a9"/>
<polygon points="310.07,1009.72 312.92,1006.87 315.77,1009.72 312.92,1012.57" fill="#a9a9a9"/>
<path d="M310.07,1113.44h5.7v5.7h-5.7zM312.92,1113.44L315.77,1119.14M312.92,1113.44L310.07,1119.14" fill="none" stroke="#a9a9a9" stroke-width="1.15" stroke-linejoin="round"/>
<circle cx="312.92" cy="1127.63" r="2.85" fill="none" stroke="#a9a9a9" stroke-width="1.15"/>
<circle cx="307.22" cy="1055.81" r="2.85" fill="#000"/>
<polygon points="307.22,1095.33 311.06,1101.98 303.38,1101.98" fill="#000"/>
<polygon points="304.37,981.86 307.22,979.01 310.07,981.86 307.22,984.71" fill="#000"/>
<path d="M304.37,1140.59h5.7v5.7h-5.7zM307.22,1140.59L310.07,1146.29M307.22,1140.59L304.37,1146.29" fill="none" stroke="#000" stroke-width="1.15" stroke-linejoin="round"/>
<circle cx="307.22" cy="1139.59" r="2.85" fill="none" stroke="#000" stroke-width="1.15"/>
<circle cx="329.45" cy="1043.15" r="2.85" fill="#a9a9a9"/>
<polygon points="329.45,1079.22 333.29,1085.87 325.61,1085.87" fill="#a9a9a9"/>
<polygon points="326.6,1012.25 329.45,1009.4 332.3,1012.25 329.45,1015.1" fill="#a9a9a9"/>
<path d="M326.6,1125.8h5.7v5.7h-5.7zM329.45,1125.8L332.3,1131.5M329.45,1125.8L326.6,1131.5" fill="none" stroke="#a9a9a9" stroke-width="1.15" stroke-linejoin="round"/>
<circle cx="329.45" cy="1150.73" r="2.85" fill="none" stroke="#a9a9a9" stroke-width="1.15"/>
<circle cx="323.75" cy="1081.34" r="2.85" fill="#000"/>
<polygon points="323.75,1107.08 327.59,1113.73 319.91,1113.73" fill="#000"/>
<polygon points="320.9,1009.72 323.75,1006.87 326.6,1009.72 323.75,1012.57" fill="#000"/>
<path d="M320.9,1141.6h5.7v5.7h-5.7zM323.75,1141.6L326.6,1147.3M323.75,1141.6L320.9,1147.3" fill="none" stroke="#000" stroke-width="1.15" stroke-linejoin="round"/>
<circle cx="323.75" cy="1154.07" r="2.85" fill="none" stroke="#000" stroke-width="1.15"/>
<circle cx="345.98" cy="962.82" r="2.85" fill="#a9a9a9"/>
<polygon points="345.98,1065.75 349.82,1072.4 342.14,1072.4" fill="#a9a9a9"/>
<polygon points="343.13,978.52 345.98,975.67 348.83,978.52 345.98,981.37" fill="#a9a9a9"/>
<path d="M343.13,1069.68h5.7v5.7h-5.7zM345.98,1069.68L348.83,1075.38M345.98,1069.68L343.13,1075.38" fill="none" stroke="#a9a9a9" stroke-width="1.15" stroke-linejoin="round"/>
<circle cx="345.98" cy="1076.78" r="2.85" fill="none" stroke="#a9a9a9" stroke-width="1.15"/>
<circle cx="340.28" cy="1031.19" r="2.85" fill="#000"/>
<polygon points="340.28,1099.99 344.12,1106.64 336.44,1106.64" fill="#000"/>
<polygon points="337.43,936.78 340.28,933.93 343.13,936.78 340.28,939.63" fill="#000"/>
<path d="M337.43,1119.01h5.7v5.7h-5.7zM340.28,1119.01L343.13,1124.71M340.28,1119.01L337.43,1124.71" fill="none" stroke="#000" stroke-width="1.15" stroke-linejoin="round"/>
<circle cx="340.28" cy="1081.34" r="2.85" fill="none" stroke="#000" stroke-width="1.15"/>
<circle cx="362.51" cy="1026.94" r="2.85" fill="#a9a9a9"/>
<polygon points="362.51,1083.68 366.35,1090.33 358.67,1090.33" fill="#a9a9a9"/>
<polygon points="359.66,1030.18 362.51,1027.33 365.36,1030.18 362.51,1033.03" fill="#a9a9a9"/>
<path d="M359.66,1125.29h5.7v5.7h-5.7zM362.51,1125.29L365.36,1130.99M362.51,1125.29L359.66,1130.99" fill="none" stroke="#a9a9a9" stroke-width="1.15" stroke-linejoin="round"/>
<circle cx="362.51" cy="1141.41" r="2.85" fill="none" stroke="#a9a9a9" stroke-width="1.15"/>
<circle cx="356.81" cy="1075.56" r="2.85" fill="#000"/>
<polygon points="356.81,1125.21 360.65,1131.86 352.97,1131.86" fill="#000"/>
<polygon points="353.96,1009.72 356.81,1006.87 359.66,1009.72 356.81,1012.57" fill="#000"/>
<path d="M353.96,1155.38h5.7v5.7h-5.7zM356.81,1155.38L359.66,1161.08M356.81,1155.38L353.96,1161.08" fill="none" stroke="#000" stroke-width="1.15" stroke-linejoin="round"/>
<circle cx="356.81" cy="1162.18" r="2.85" fill="none" stroke="#000" stroke-width="1.15"/>
<circle cx="379.04" cy="1038.29" r="2.85" fill="#a9a9a9"/>
<polygon points="379.04,1086.82 382.88,1093.47 375.2,1093.47" fill="#a9a9a9"/>
<polygon points="376.19,1031.19 379.04,1028.35 381.89,1031.19 379.04,1034.04" fill="#a9a9a9"/>
<path d="M376.19,1133.49h5.7v5.7h-5.7zM379.04,1133.49L381.89,1139.19M379.04,1133.49L376.19,1139.19" fill="none" stroke="#a9a9a9" stroke-width="1.15" stroke-linejoin="round"/>
<circle cx="379.04" cy="1150.22" r="2.85" fill="none" stroke="#a9a9a9" stroke-width="1.15"/>
<circle cx="373.34" cy="1083.06" r="2.85" fill="#000"/>
<polygon points="373.34,1132.91 377.18,1139.56 369.5,1139.56" fill="#000"/>
<polygon points="370.49,1012.96 373.34,1010.11 376.19,1012.96 373.34,1015.81" fill="#000"/>
<path d="M370.49,1161.35h5.7v5.7h-5.7zM373.34,1161.35L376.19,1167.05M373.34,1161.35L370.49,1167.05" fill="none" stroke="#000" stroke-width="1.15" stroke-linejoin="round"/>
<circle cx="373.34" cy="1170.48" r="2.85" fill="none" stroke="#000" stroke-width="1.15"/>
<circle cx="395.57" cy="1024.1" r="2.85" fill="#a9a9a9"/>
<polygon points="395.57,1077.2 399.41,1083.85 391.73,1083.85" fill="#a9a9a9"/>
<polygon points="392.72,1017.82 395.57,1014.97 398.42,1017.82 395.57,1020.67" fill="#a9a9a9"/>
<path d="M392.72,1124.58h5.7v5.7h-5.7zM395.57,1124.58L398.42,1130.28M395.57,1124.58L392.72,1130.28" fill="none" stroke="#a9a9a9" stroke-width="1.15" stroke-linejoin="round"/>
<circle cx="395.57" cy="1140.7" r="2.85" fill="none" stroke="#a9a9a9" stroke-width="1.15"/>
<circle cx="389.87" cy="1064.62" r="2.85" fill="#000"/>
<polygon points="389.87,1107.08 393.71,1113.73 386.03,1113.73" fill="#000"/>
<polygon points="387.02,994.93 389.87,992.08 392.72,994.93 389.87,997.78" fill="#000"/>
<path d="M387.02,1147.37h5.7v5.7h-5.7zM389.87,1147.37L392.72,1153.07M389.87,1147.37L387.02,1153.07" fill="none" stroke="#000" stroke-width="1.15" stroke-linejoin="round"/>
<circle cx="389.87" cy="1152.75" r="2.85" fill="none" stroke="#000" stroke-width="1.15"/>
<circle cx="412.1" cy="1026.13" r="2.85" fill="#a9a9a9"/>
<polygon points="412.1,1060.18 415.94,1066.83 408.26,1066.83" fill="#a9a9a9"/>
<polygon points="409.25,998.78 412.1,995.93 414.95,998.78 412.1,1001.63" fill="#a9a9a9"/>
<path d="M409.25,1107.36h5.7v5.7h-5.7zM412.1,1107.36L414.95,1113.06M412.1,1107.36L409.25,1113.06" fill="none" stroke="#a9a9a9" stroke-width="1.15" stroke-linejoin="round"/>
<circle cx="412.1" cy="1105.14" r="2.85" fill="none" stroke="#a9a9a9" stroke-width="1.15"/>
<circle cx="406.4" cy="1092.79" r="2.85" fill="#000"/>
<polygon points="406.4,1107.99 410.24,1114.64 402.56,1114.64" fill="#000"/>
<polygon points="403.55,1014.28 406.4,1011.43 409.25,1014.28 406.4,1017.13" fill="#000"/>
<path d="M403.55,1141.09h5.7v5.7h-5.7zM406.4,1141.09L409.25,1146.79M406.4,1141.09L403.55,1146.79" fill="none" stroke="#000" stroke-width="1.15" stroke-linejoin="round"/>
<circle cx="406.4" cy="1143.94" r="2.85" fill="none" stroke="#000" stroke-width="1.15"/>
<circle cx="428.63" cy="961.1" r="2.85" fill="#a9a9a9"/>
<polygon points="428.63,1052.58 432.47,1059.23 424.79,1059.23" fill="#a9a9a9"/>
<polygon points="425.78,944.38 428.63,941.53 431.48,944.38 428.63,947.23" fill="#a9a9a9"/>
<path d="M425.78,1081.02h5.7v5.7h-5.7zM428.63,1081.02L431.48,1086.72M428.63,1081.02L425.78,1086.72" fill="none" stroke="#a9a9a9" stroke-width="1.15" stroke-linejoin="round"/>
<circle cx="428.63" cy="1050.24" r="2.85" fill="none" stroke="#a9a9a9" stroke-width="1.15"/>
<circle cx="422.93" cy="985.61" r="2.85" fill="#000"/>
<polygon points="422.93,1034.14 426.77,1040.79 419.09,1040.79" fill="#000"/>
<polygon points="420.08,930.71 422.93,927.86 425.78,930.71 422.93,933.56" fill="#000"/>
<path d="M420.08,1079.5h5.7v5.7h-5.7zM422.93,1079.5L425.78,1085.2M422.93,1079.5L420.08,1085.2" fill="none" stroke="#000" stroke-width="1.15" stroke-linejoin="round"/>
<circle cx="422.93" cy="1051.56" r="2.85" fill="none" stroke="#000" stroke-width="1.15"/>
<circle cx="445.16" cy="1025.62" r="2.85" fill="#a9a9a9"/>
<polygon points="445.16,1066.26 449,1072.91 441.32,1072.91" fill="#a9a9a9"/>
<polygon points="442.31,1005.16 445.16,1002.31 448.01,1005.16 445.16,1008.01" fill="#a9a9a9"/>
<path d="M442.31,1113.23h5.7v5.7h-5.7zM445.16,1113.23L448.01,1118.93M445.16,1113.23L442.31,1118.93" fill="none" stroke="#a9a9a9" stroke-width="1.15" stroke-linejoin="round"/>
<circle cx="445.16" cy="1102.11" r="2.85" fill="none" stroke="#a9a9a9" stroke-width="1.15"/>
<circle cx="439.46" cy="1078.6" r="2.85" fill="#000"/>
<polygon points="439.46,1115.18 443.3,1121.83 435.62,1121.83" fill="#000"/>
<polygon points="436.61,1018.53 439.46,1015.68 442.31,1018.53 439.46,1021.38" fill="#000"/>
<path d="M436.61,1148.69h5.7v5.7h-5.7zM439.46,1148.69L442.31,1154.39M439.46,1148.69L436.61,1154.39" fill="none" stroke="#000" stroke-width="1.15" stroke-linejoin="round"/>
<circle cx="439.46" cy="1130.77" r="2.85" fill="none" stroke="#000" stroke-width="1.15"/>
<circle cx="461.69" cy="1029.98" r="2.85" fill="#a9a9a9"/>
<polygon points="461.69,1066.26 465.53,1072.91 457.85,1072.91" fill="#a9a9a9"/>
<polygon points="458.84,1007.9 461.69,1005.05 464.54,1007.9 461.69,1010.75" fill="#a9a9a9"/>
<path d="M458.84,1115.06h5.7v5.7h-5.7zM461.69,1115.06L464.54,1120.76M461.69,1115.06L458.84,1120.76" fill="none" stroke="#a9a9a9" stroke-width="1.15" stroke-linejoin="round"/>
<circle cx="461.69" cy="1110.31" r="2.85" fill="none" stroke="#a9a9a9" stroke-width="1.15"/>
<circle cx="455.99" cy="1083.06" r="2.85" fill="#000"/>
<polygon points="455.99,1111.34 459.83,1117.98 452.15,1117.98" fill="#000"/>
<polygon points="453.14,1017.32 455.99,1014.47 458.84,1017.32 455.99,1020.17" fill="#000"/>
<path d="M453.14,1150.41h5.7v5.7h-5.7zM455.99,1150.41L458.84,1156.11M455.99,1150.41L453.14,1156.11" fill="none" stroke="#000" stroke-width="1.15" stroke-linejoin="round"/>
<circle cx="455.99" cy="1140.9" r="2.85" fill="none" stroke="#000" stroke-width="1.15"/>
<circle cx="478.22" cy="1026.94" r="2.85" fill="#a9a9a9"/>
<polygon points="478.22,1062.81 482.06,1069.46 474.38,1069.46" fill="#a9a9a9"/>
<polygon points="475.37,994.93 478.22,992.08 481.07,994.93 478.22,997.78" fill="#a9a9a9"/>
<path d="M475.37,1109.38h5.7v5.7h-5.7zM478.22,1109.38L481.07,1115.08M478.22,1109.38L475.37,1115.08" fill="none" stroke="#a9a9a9" stroke-width="1.15" stroke-linejoin="round"/>
<circle cx="478.22" cy="1105.95" r="2.85" fill="none" stroke="#a9a9a9" stroke-width="1.15"/>
<circle cx="472.52" cy="1078.6" r="2.85" fill="#000"/>
<polygon points="472.52,1063.72 476.36,1070.37 468.68,1070.37" fill="#000"/>
<polygon points="469.67,994.93 472.52,992.08 475.37,994.93 472.52,997.78" fill="#000"/>
<path d="M469.67,1131.47h5.7v5.7h-5.7zM472.52,1131.47L475.37,1137.17M472.52,1131.47L469.67,1137.17" fill="none" stroke="#000" stroke-width="1.15" stroke-linejoin="round"/>
<circle cx="472.52" cy="1129.96" r="2.85" fill="none" stroke="#000" stroke-width="1.15"/>
<circle cx="494.75" cy="1029.17" r="2.85" fill="#a9a9a9"/>
<polygon points="494.75,1072.13 498.59,1078.78 490.91,1078.78" fill="#a9a9a9"/>
<polygon points="491.9,996.25 494.75,993.4 497.6,996.25 494.75,999.1" fill="#a9a9a9"/>
<path d="M491.9,1113.23h5.7v5.7h-5.7zM494.75,1113.23L497.6,1118.93M494.75,1113.23L491.9,1118.93" fill="none" stroke="#a9a9a9" stroke-width="1.15" stroke-linejoin="round"/>
<circle cx="494.75" cy="1111.02" r="2.85" fill="none" stroke="#a9a9a9" stroke-width="1.15"/>
<circle cx="489.05" cy="1098.76" r="2.85" fill="#000"/>
<polygon points="489.05,1110.02 492.89,1116.67 485.21,1116.67" fill="#000"/>
<polygon points="486.2,1017.82 489.05,1014.97 491.9,1017.82 489.05,1020.67" fill="#000"/>
<path d="M486.2,1141.6h5.7v5.7h-5.7zM489.05,1141.6L491.9,1147.3M489.05,1141.6L486.2,1147.3" fill="none" stroke="#000" stroke-width="1.15" stroke-linejoin="round"/>
<circle cx="489.05" cy="1144.45" r="2.85" fill="none" stroke="#000" stroke-width="1.15"/>
<circle cx="511.28" cy="978.82" r="2.85" fill="#a9a9a9"/>
<polygon points="511.28,1080.95 515.12,1087.59 507.44,1087.59" fill="#a9a9a9"/>
<polygon points="508.43,959.07 511.28,956.22 514.13,959.07 511.28,961.92" fill="#a9a9a9"/>
<path d="M508.43,1094.29h5.7v5.7h-5.7zM511.28,1094.29L514.13,1099.99M511.28,1094.29L508.43,1099.99" fill="none" stroke="#a9a9a9" stroke-width="1.15" stroke-linejoin="round"/>
<circle cx="511.28" cy="1064.62" r="2.85" fill="none" stroke="#a9a9a9" stroke-width="1.15"/>
<circle cx="505.58" cy="1044.36" r="2.85" fill="#000"/>
<polygon points="505.58,1113.97 509.42,1120.62 501.74,1120.62" fill="#000"/>
<polygon points="502.73,952.18 505.58,949.33 508.43,952.18 505.58,955.03" fill="#000"/>
<path d="M502.73,1129.75h5.7v5.7h-5.7zM505.58,1129.75L508.43,1135.45M505.58,1129.75L502.73,1135.45" fill="none" stroke="#000" stroke-width="1.15" stroke-linejoin="round"/>
<circle cx="505.58" cy="1067.87" r="2.85" fill="none" stroke="#000" stroke-width="1.15"/>
<circle cx="527.81" cy="1026.64" r="2.85" fill="#a9a9a9"/>
<polygon points="527.81,1077.7 531.65,1084.35 523.97,1084.35" fill="#a9a9a9"/>
<polygon points="524.96,1001.31 527.81,998.46 530.66,1001.31 527.81,1004.16" fill="#a9a9a9"/>
<path d="M524.96,1118.3h5.7v5.7h-5.7zM527.81,1118.3L530.66,1124M527.81,1118.3L524.96,1124" fill="none" stroke="#a9a9a9" stroke-width="1.15" stroke-linejoin="round"/>
<circle cx="527.81" cy="1100.38" r="2.85" fill="none" stroke="#a9a9a9" stroke-width="1.15"/>
<circle cx="522.11" cy="1091.97" r="2.85" fill="#000"/>
<polygon points="522.11,1124 525.95,1130.65 518.27,1130.65" fill="#000"/>
<polygon points="519.26,1021.06 522.11,1018.21 524.96,1021.06 522.11,1023.91" fill="#000"/>
<path d="M519.26,1156.79h5.7v5.7h-5.7zM522.11,1156.79L524.96,1162.49M522.11,1156.79L519.26,1162.49" fill="none" stroke="#000" stroke-width="1.15" stroke-linejoin="round"/>
<circle cx="522.11" cy="1133.71" r="2.85" fill="none" stroke="#000" stroke-width="1.15"/>
<circle cx="544.34" cy="1032.01" r="2.85" fill="#a9a9a9"/>
<polygon points="544.34,1079.22 548.18,1085.87 540.5,1085.87" fill="#a9a9a9"/>
<polygon points="541.49,1002.83 544.34,999.98 547.19,1002.83 544.34,1005.68" fill="#a9a9a9"/>
<path d="M541.49,1123.36h5.7v5.7h-5.7zM544.34,1123.36L547.19,1129.06M544.34,1123.36L541.49,1129.06" fill="none" stroke="#a9a9a9" stroke-width="1.15" stroke-linejoin="round"/>
<circle cx="544.34" cy="1111.42" r="2.85" fill="none" stroke="#a9a9a9" stroke-width="1.15"/>
<circle cx="538.64" cy="1099.07" r="2.85" fill="#000"/>
<polygon points="538.64,1127.85 542.48,1134.5 534.8,1134.5" fill="#000"/>
<polygon points="535.79,1021.06 538.64,1018.21 541.49,1021.06 538.64,1023.91" fill="#000"/>
<path d="M535.79,1161.35h5.7v5.7h-5.7zM538.64,1161.35L541.49,1167.05M538.64,1161.35L535.79,1167.05" fill="none" stroke="#000" stroke-width="1.15" stroke-linejoin="round"/>
<circle cx="538.64" cy="1148.4" r="2.85" fill="none" stroke="#000" stroke-width="1.15"/>
<circle cx="560.87" cy="1031.7" r="2.85" fill="#a9a9a9"/>
<polygon points="560.87,1079.73 564.71,1086.38 557.03,1086.38" fill="#a9a9a9"/>
<polygon points="558.02,991.18 560.87,988.33 563.72,991.18 560.87,994.03" fill="#a9a9a9"/>
<path d="M558.02,1120.33h5.7v5.7h-5.7zM560.87,1120.33L563.72,1126.03M560.87,1120.33L558.02,1126.03" fill="none" stroke="#a9a9a9" stroke-width="1.15" stroke-linejoin="round"/>
<circle cx="560.87" cy="1110.31" r="2.85" fill="none" stroke="#a9a9a9" stroke-width="1.15"/>
<circle cx="555.17" cy="1094.51" r="2.85" fill="#000"/>
<polygon points="555.17,1112.65 559.01,1119.3 551.33,1119.3" fill="#000"/>
<polygon points="552.32,996.25 555.17,993.4 558.02,996.25 555.17,999.1" fill="#000"/>
<path d="M552.32,1152.94h5.7v5.7h-5.7zM555.17,1152.94L558.02,1158.64M555.17,1152.94L552.32,1158.64" fill="none" stroke="#000" stroke-width="1.15" stroke-linejoin="round"/>
<circle cx="555.17" cy="1132.6" r="2.85" fill="none" stroke="#000" stroke-width="1.15"/>
<text class="tk" transform="translate(46.9,1223.8) scale(1,1.09)" text-anchor="end">0</text>
<text class="tk" transform="translate(46.9,1122.5) scale(1,1.09)" text-anchor="end">10</text>
<text class="tk" transform="translate(46.9,1021.2) scale(1,1.09)" text-anchor="end">20</text>
<text class="tk" transform="translate(46.9,919.9) scale(1,1.09)" text-anchor="end">30</text>
<text class="tt" transform="translate(25.3,1057.55) rotate(-90) scale(1.01,1.055)" text-anchor="middle">Error rate [%]</text>
<text class="tk" transform="translate(75.1,1224.9) rotate(-45) scale(1,1.09)" text-anchor="end" dominant-baseline="hanging">simRes-fsMax</text>
<text class="tk" transform="translate(91.63,1224.9) rotate(-45) scale(1,1.09)" text-anchor="end" dominant-baseline="hanging">simRes-fsAvg</text>
<text class="tk" transform="translate(108.16,1224.9) rotate(-45) scale(1,1.09)" text-anchor="end" dominant-baseline="hanging">simRes-fsBMM</text>
<text class="tk" transform="translate(124.69,1224.9) rotate(-45) scale(1,1.09)" text-anchor="end" dominant-baseline="hanging">simRes-fsBMA</text>
<text class="tk" transform="translate(141.22,1224.9) rotate(-45) scale(1,1.09)" text-anchor="end" dominant-baseline="hanging">simRes-fsABM</text>
<text class="tk" transform="translate(157.75,1224.9) rotate(-45) scale(1,1.09)" text-anchor="end" dominant-baseline="hanging">simLin-fsMax</text>
<text class="tk" transform="translate(174.28,1224.9) rotate(-45) scale(1,1.09)" text-anchor="end" dominant-baseline="hanging">simLin-fsAvg</text>
<text class="tk" transform="translate(190.81,1224.9) rotate(-45) scale(1,1.09)" text-anchor="end" dominant-baseline="hanging">simLin-fsBMM</text>
<text class="tk" transform="translate(207.34,1224.9) rotate(-45) scale(1,1.09)" text-anchor="end" dominant-baseline="hanging">simLin-fsBMA</text>
<text class="tk" transform="translate(223.87,1224.9) rotate(-45) scale(1,1.09)" text-anchor="end" dominant-baseline="hanging">simLin-fsABM</text>
<text class="tk" transform="translate(240.4,1224.9) rotate(-45) scale(1,1.09)" text-anchor="end" dominant-baseline="hanging">simRel-fsMax</text>
<text class="tk" transform="translate(256.93,1224.9) rotate(-45) scale(1,1.09)" text-anchor="end" dominant-baseline="hanging">simRel-fsAvg</text>
<text class="tk" transform="translate(273.46,1224.9) rotate(-45) scale(1,1.09)" text-anchor="end" dominant-baseline="hanging">simRel-fsBMM</text>
<text class="tk" transform="translate(289.99,1224.9) rotate(-45) scale(1,1.09)" text-anchor="end" dominant-baseline="hanging">simRel-fsBMA</text>
<text class="tk" transform="translate(306.52,1224.9) rotate(-45) scale(1,1.09)" text-anchor="end" dominant-baseline="hanging">simRel-fsABM</text>
<text class="tk" transform="translate(323.05,1224.9) rotate(-45) scale(1,1.09)" text-anchor="end" dominant-baseline="hanging">simIC-fsMax</text>
<text class="tk" transform="translate(339.58,1224.9) rotate(-45) scale(1,1.09)" text-anchor="end" dominant-baseline="hanging">simIC-fsAvg</text>
<text class="tk" transform="translate(356.11,1224.9) rotate(-45) scale(1,1.09)" text-anchor="end" dominant-baseline="hanging">simIC-fsBMM</text>
<text class="tk" transform="translate(372.64,1224.9) rotate(-45) scale(1,1.09)" text-anchor="end" dominant-baseline="hanging">simIC-fsBMA</text>
<text class="tk" transform="translate(389.17,1224.9) rotate(-45) scale(1,1.09)" text-anchor="end" dominant-baseline="hanging">simIC-fsABM</text>
<text class="tk" transform="translate(405.7,1224.9) rotate(-45) scale(1,1.09)" text-anchor="end" dominant-baseline="hanging">simJC-fsMax</text>
<text class="tk" transform="translate(422.23,1224.9) rotate(-45) scale(1,1.09)" text-anchor="end" dominant-baseline="hanging">simJC-fsAvg</text>
<text class="tk" transform="translate(438.76,1224.9) rotate(-45) scale(1,1.09)" text-anchor="end" dominant-baseline="hanging">simJC-fsBMM</text>
<text class="tk" transform="translate(455.29,1224.9) rotate(-45) scale(1,1.09)" text-anchor="end" dominant-baseline="hanging">simJC-fsBMA</text>
<text class="tk" transform="translate(471.82,1224.9) rotate(-45) scale(1,1.09)" text-anchor="end" dominant-baseline="hanging">simJC-fsABM</text>
<text class="tk" transform="translate(488.35,1224.9) rotate(-45) scale(1,1.09)" text-anchor="end" dominant-baseline="hanging">simGIC-fsMax</text>
<text class="tk" transform="translate(504.88,1224.9) rotate(-45) scale(1,1.09)" text-anchor="end" dominant-baseline="hanging">simGIC-fsAvg</text>
<text class="tk" transform="translate(521.41,1224.9) rotate(-45) scale(1,1.09)" text-anchor="end" dominant-baseline="hanging">simGIC-fsBMM</text>
<text class="tk" transform="translate(537.94,1224.9) rotate(-45) scale(1,1.09)" text-anchor="end" dominant-baseline="hanging">simGIC-fsBMA</text>
<text class="tk" transform="translate(554.47,1224.9) rotate(-45) scale(1,1.09)" text-anchor="end" dominant-baseline="hanging">simGIC-fsABM</text>
<text class="tt" transform="translate(318.3,1316.5) scale(1,1.055)" text-anchor="middle">Functional similarity (mouse/fly)</text>
<text class="tag" transform="translate(1.5,903.5) scale(0.95,1.04)">c</text>
<text class="tt" transform="translate(571.4,998.5) scale(1,1.02)">ontology</text>
<circle cx="584.3" cy="1017" r="2.85" fill="#000"/>
<text class="tk" transform="translate(599.3,1022) scale(1,1.09)">BP</text>
<polygon points="584.3,1037.17 588.14,1043.82 580.46,1043.82" fill="#000"/>
<text class="tk" transform="translate(599.3,1046.6) scale(1,1.09)">MF</text>
<polygon points="581.45,1066.2 584.3,1063.35 587.15,1066.2 584.3,1069.05" fill="#000"/>
<text class="tk" transform="translate(599.3,1071.2) scale(1,1.09)">CC</text>
<path d="M581.45,1087.95h5.7v5.7h-5.7zM584.3,1087.95L587.15,1093.65M584.3,1087.95L581.45,1093.65" fill="none" stroke="#000" stroke-width="1.15" stroke-linejoin="round"/>
<text class="tk" transform="translate(599.3,1095.8) scale(1,1.09)">BP+MF</text>
<circle cx="584.3" cy="1115.4" r="2.85" fill="none" stroke="#000" stroke-width="1.15"/>
<text class="tk" transform="translate(599.3,1120.4) scale(1,1.09)">BP+MF+CC</text>
</g>
</svg>
</body></html>
